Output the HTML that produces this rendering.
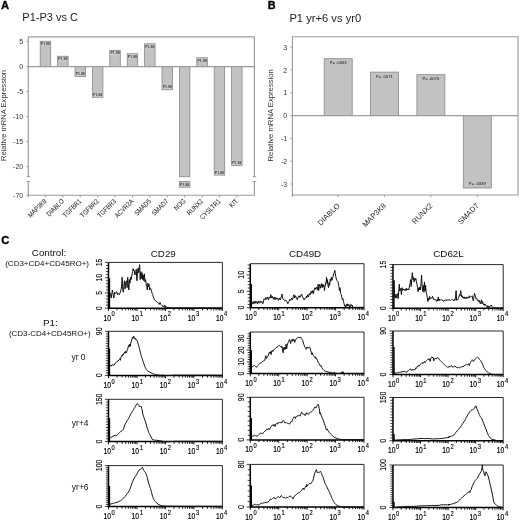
<!DOCTYPE html>
<html><head><meta charset="utf-8"><style>
html,body{margin:0;padding:0;background:#fff;}
svg{display:block;filter:blur(0.3px);}
text{font-family:"Liberation Sans", sans-serif;}
</style></head><body>
<svg width="520" height="522" viewBox="0 0 520 522">
<rect width="520" height="522" fill="#fff"/>
<text x="0.90" y="8.90" font-size="11.2" text-anchor="start" font-weight="bold" fill="#000" stroke="#000" stroke-width="0.35">A</text>
<text x="22.30" y="21.30" font-size="11" text-anchor="start" font-weight="normal" fill="#222">P1-P3 vs C</text>
<path d="M28.3 176.7 V36.8 H254.4 V176.7 M28.3 181.5 V197.2 M28.3 195.2 H254.4 V181.5" fill="none" stroke="#9c9c9c" stroke-width="1.15"/>
<path d="M26.5 176.7 H30.1 M26.5 181.5 H30.1" stroke="#9c9c9c" stroke-width="1"/>
<path d="M252.6 176.7 H256.2 M252.6 181.5 H256.2" stroke="#9c9c9c" stroke-width="1"/>
<path d="M26.3 41.599999999999994 H28.3" stroke="#9c9c9c" stroke-width="1"/>
<text x="23.20" y="44.10" font-size="7" text-anchor="end" font-weight="normal" fill="#333">5</text>
<path d="M26.3 66.6 H28.3" stroke="#9c9c9c" stroke-width="1"/>
<text x="23.20" y="69.10" font-size="7" text-anchor="end" font-weight="normal" fill="#333">0</text>
<path d="M26.3 91.6 H28.3" stroke="#9c9c9c" stroke-width="1"/>
<text x="23.20" y="94.10" font-size="7" text-anchor="end" font-weight="normal" fill="#333">-5</text>
<path d="M26.3 116.6 H28.3" stroke="#9c9c9c" stroke-width="1"/>
<text x="23.20" y="119.10" font-size="7" text-anchor="end" font-weight="normal" fill="#333">-10</text>
<path d="M26.3 141.6 H28.3" stroke="#9c9c9c" stroke-width="1"/>
<text x="23.20" y="144.10" font-size="7" text-anchor="end" font-weight="normal" fill="#333">-15</text>
<path d="M26.3 166.6 H28.3" stroke="#9c9c9c" stroke-width="1"/>
<text x="23.20" y="169.10" font-size="7" text-anchor="end" font-weight="normal" fill="#333">-20</text>
<path d="M26.3 195.2 H28.3" stroke="#9c9c9c" stroke-width="1"/>
<text x="23.20" y="197.70" font-size="7" text-anchor="end" font-weight="normal" fill="#333">-70</text>
<text x="6.00" y="115.50" font-size="7.6" text-anchor="middle" font-weight="normal" fill="#333" transform="rotate(-90 6.0 115.5)">Relative mRNA Expression</text>
<rect x="40.20" y="41.25" width="10.5" height="25.35" fill="#c2c2c2" stroke="#888888" stroke-width="0.8"/>
<rect x="40.90" y="41.85" width="9.10" height="4.2" fill="#cdcdcd"/>
<text x="45.45" y="45.15" font-size="3.5" font-weight="bold" text-anchor="middle" fill="#3a3a3a">P1.98</text>
<path d="M45.45 195.2 V197.39999999999998" stroke="#9c9c9c" stroke-width="1"/>
<text x="47.05" y="201.60" font-size="7" text-anchor="end" fill="#111" transform="rotate(-45 47.05 201.60) translate(47.05 201.60) scale(0.84 1) translate(-47.05 -201.60)">MAP3K8</text>
<rect x="57.60" y="56.25" width="10.5" height="10.35" fill="#c2c2c2" stroke="#888888" stroke-width="0.8"/>
<rect x="58.30" y="56.85" width="9.10" height="4.2" fill="#cdcdcd"/>
<text x="62.85" y="60.15" font-size="3.5" font-weight="bold" text-anchor="middle" fill="#3a3a3a">P1.98</text>
<path d="M62.85 195.2 V197.39999999999998" stroke="#9c9c9c" stroke-width="1"/>
<text x="64.45" y="201.60" font-size="7" text-anchor="end" fill="#111" transform="rotate(-45 64.45 201.60) translate(64.45 201.60) scale(0.84 1) translate(-64.45 -201.60)">DIABLO</text>
<rect x="75.00" y="66.60" width="10.5" height="9.90" fill="#c2c2c2" stroke="#888888" stroke-width="0.8"/>
<rect x="75.70" y="71.70" width="9.10" height="4.2" fill="#cdcdcd"/>
<text x="80.25" y="75.00" font-size="3.5" font-weight="bold" text-anchor="middle" fill="#3a3a3a">P1.98</text>
<path d="M80.25 195.2 V197.39999999999998" stroke="#9c9c9c" stroke-width="1"/>
<text x="81.85" y="201.60" font-size="7" text-anchor="end" fill="#111" transform="rotate(-45 81.85 201.60) translate(81.85 201.60) scale(0.84 1) translate(-81.85 -201.60)">TGFBR1</text>
<rect x="92.40" y="66.60" width="10.5" height="30.65" fill="#c2c2c2" stroke="#888888" stroke-width="0.8"/>
<rect x="93.10" y="92.45" width="9.10" height="4.2" fill="#cdcdcd"/>
<text x="97.65" y="95.75" font-size="3.5" font-weight="bold" text-anchor="middle" fill="#3a3a3a">P1.98</text>
<path d="M97.65 195.2 V197.39999999999998" stroke="#9c9c9c" stroke-width="1"/>
<text x="99.25" y="201.60" font-size="7" text-anchor="end" fill="#111" transform="rotate(-45 99.25 201.60) translate(99.25 201.60) scale(0.84 1) translate(-99.25 -201.60)">TGFBR2</text>
<rect x="109.80" y="50.40" width="10.5" height="16.20" fill="#c2c2c2" stroke="#888888" stroke-width="0.8"/>
<rect x="110.50" y="51.00" width="9.10" height="4.2" fill="#cdcdcd"/>
<text x="115.05" y="54.30" font-size="3.5" font-weight="bold" text-anchor="middle" fill="#3a3a3a">P1.98</text>
<path d="M115.05 195.2 V197.39999999999998" stroke="#9c9c9c" stroke-width="1"/>
<text x="116.65" y="201.60" font-size="7" text-anchor="end" fill="#111" transform="rotate(-45 116.65 201.60) translate(116.65 201.60) scale(0.84 1) translate(-116.65 -201.60)">TGFBR3</text>
<rect x="127.20" y="53.75" width="10.5" height="12.85" fill="#c2c2c2" stroke="#888888" stroke-width="0.8"/>
<rect x="127.90" y="54.35" width="9.10" height="4.2" fill="#cdcdcd"/>
<text x="132.45" y="57.65" font-size="3.5" font-weight="bold" text-anchor="middle" fill="#3a3a3a">P1.98</text>
<path d="M132.45 195.2 V197.39999999999998" stroke="#9c9c9c" stroke-width="1"/>
<text x="134.05" y="201.60" font-size="7" text-anchor="end" fill="#111" transform="rotate(-45 134.05 201.60) translate(134.05 201.60) scale(0.84 1) translate(-134.05 -201.60)">ACVR2A</text>
<rect x="144.60" y="43.75" width="10.5" height="22.85" fill="#c2c2c2" stroke="#888888" stroke-width="0.8"/>
<rect x="145.30" y="44.35" width="9.10" height="4.2" fill="#cdcdcd"/>
<text x="149.85" y="47.65" font-size="3.5" font-weight="bold" text-anchor="middle" fill="#3a3a3a">P1.98</text>
<path d="M149.85 195.2 V197.39999999999998" stroke="#9c9c9c" stroke-width="1"/>
<text x="151.45" y="201.60" font-size="7" text-anchor="end" fill="#111" transform="rotate(-45 151.45 201.60) translate(151.45 201.60) scale(0.84 1) translate(-151.45 -201.60)">SMAD5</text>
<rect x="162.00" y="66.60" width="10.5" height="23.15" fill="#c2c2c2" stroke="#888888" stroke-width="0.8"/>
<rect x="162.70" y="84.95" width="9.10" height="4.2" fill="#cdcdcd"/>
<text x="167.25" y="88.25" font-size="3.5" font-weight="bold" text-anchor="middle" fill="#3a3a3a">P1.98</text>
<path d="M167.25 195.2 V197.39999999999998" stroke="#9c9c9c" stroke-width="1"/>
<text x="168.85" y="201.60" font-size="7" text-anchor="end" fill="#111" transform="rotate(-45 168.85 201.60) translate(168.85 201.60) scale(0.84 1) translate(-168.85 -201.60)">SMAD7</text>
<rect x="179.40" y="66.60" width="10.5" height="110.10" fill="#c2c2c2" stroke="#888888" stroke-width="0.8"/>
<path d="M184.65 195.2 V197.39999999999998" stroke="#9c9c9c" stroke-width="1"/>
<text x="186.25" y="201.60" font-size="7" text-anchor="end" fill="#111" transform="rotate(-45 186.25 201.60) translate(186.25 201.60) scale(0.84 1) translate(-186.25 -201.60)">NOG</text>
<rect x="196.80" y="57.75" width="10.5" height="8.85" fill="#c2c2c2" stroke="#888888" stroke-width="0.8"/>
<rect x="197.50" y="58.35" width="9.10" height="4.2" fill="#cdcdcd"/>
<text x="202.05" y="61.65" font-size="3.5" font-weight="bold" text-anchor="middle" fill="#3a3a3a">P1.98</text>
<path d="M202.05 195.2 V197.39999999999998" stroke="#9c9c9c" stroke-width="1"/>
<text x="203.65" y="201.60" font-size="7" text-anchor="end" fill="#111" transform="rotate(-45 203.65 201.60) translate(203.65 201.60) scale(0.84 1) translate(-203.65 -201.60)">RUNX2</text>
<rect x="214.20" y="66.60" width="10.5" height="108.50" fill="#c2c2c2" stroke="#888888" stroke-width="0.8"/>
<rect x="214.90" y="170.30" width="9.10" height="4.2" fill="#cdcdcd"/>
<text x="219.45" y="173.60" font-size="3.5" font-weight="bold" text-anchor="middle" fill="#3a3a3a">P1.98</text>
<path d="M219.45 195.2 V197.39999999999998" stroke="#9c9c9c" stroke-width="1"/>
<text x="221.05" y="201.60" font-size="7" text-anchor="end" fill="#111" transform="rotate(-45 221.05 201.60) translate(221.05 201.60) scale(0.84 1) translate(-221.05 -201.60)">CYSLTR1</text>
<rect x="231.60" y="66.60" width="10.5" height="98.80" fill="#c2c2c2" stroke="#888888" stroke-width="0.8"/>
<rect x="232.30" y="160.60" width="9.10" height="4.2" fill="#cdcdcd"/>
<text x="236.85" y="163.90" font-size="3.5" font-weight="bold" text-anchor="middle" fill="#3a3a3a">P1.98</text>
<path d="M236.85 195.2 V197.39999999999998" stroke="#9c9c9c" stroke-width="1"/>
<text x="238.45" y="201.60" font-size="7" text-anchor="end" fill="#111" transform="rotate(-45 238.45 201.60) translate(238.45 201.60) scale(0.84 1) translate(-238.45 -201.60)">KIT</text>
<rect x="179.40" y="181.50" width="10.5" height="5.7" fill="#c2c2c2" stroke="#888888" stroke-width="0.8"/>
<rect x="180.10" y="182.50" width="9.1" height="4.2" fill="#cdcdcd"/>
<text x="184.65" y="185.80" font-size="3.5" font-weight="bold" text-anchor="middle" fill="#3a3a3a">P1.98</text>
<path d="M28.3 66.6 H254.4" stroke="#9c9c9c" stroke-width="1.15"/>
<text x="267.80" y="9.20" font-size="10.8" text-anchor="start" font-weight="bold" fill="#000" stroke="#000" stroke-width="0.35">B</text>
<text x="289.40" y="21.80" font-size="11.2" text-anchor="start" font-weight="normal" fill="#222">P1 yr+6 vs yr0</text>
<path d="M292.4 197.0 V36.7 H518.0 V195.0 H292.4" fill="none" stroke="#9c9c9c" stroke-width="1.15"/>
<path d="M290.4 47.20 H292.4" stroke="#9c9c9c" stroke-width="1"/>
<text x="287.20" y="49.70" font-size="7" text-anchor="end" font-weight="normal" fill="#333">3</text>
<path d="M290.4 70.00 H292.4" stroke="#9c9c9c" stroke-width="1"/>
<text x="287.20" y="72.50" font-size="7" text-anchor="end" font-weight="normal" fill="#333">2</text>
<path d="M290.4 92.80 H292.4" stroke="#9c9c9c" stroke-width="1"/>
<text x="287.20" y="95.30" font-size="7" text-anchor="end" font-weight="normal" fill="#333">1</text>
<path d="M290.4 115.60 H292.4" stroke="#9c9c9c" stroke-width="1"/>
<text x="287.20" y="118.10" font-size="7" text-anchor="end" font-weight="normal" fill="#333">0</text>
<path d="M290.4 138.40 H292.4" stroke="#9c9c9c" stroke-width="1"/>
<text x="287.20" y="140.90" font-size="7" text-anchor="end" font-weight="normal" fill="#333">-1</text>
<path d="M290.4 161.20 H292.4" stroke="#9c9c9c" stroke-width="1"/>
<text x="287.20" y="163.70" font-size="7" text-anchor="end" font-weight="normal" fill="#333">-2</text>
<path d="M290.4 184.00 H292.4" stroke="#9c9c9c" stroke-width="1"/>
<text x="287.20" y="186.50" font-size="7" text-anchor="end" font-weight="normal" fill="#333">-3</text>
<text x="273.40" y="115.30" font-size="7.7" text-anchor="middle" font-weight="normal" fill="#333" transform="rotate(-90 273.4 115.3)">Relative mRNA Expression</text>
<rect x="324.20" y="58.70" width="28.0" height="56.90" fill="#c2c2c2" stroke="#888888" stroke-width="0.8"/>
<text x="338.20" y="64.20" font-size="4.2" text-anchor="middle" font-weight="normal" fill="#111">P= .0063</text>
<path d="M338.20 195.0 V197.2" stroke="#9c9c9c" stroke-width="1"/>
<text x="340.40" y="206.20" font-size="7.6" text-anchor="end" font-weight="normal" fill="#222" transform="rotate(-45 340.4 206.2)">DIABLO</text>
<rect x="370.40" y="72.10" width="28.0" height="43.50" fill="#c2c2c2" stroke="#888888" stroke-width="0.8"/>
<text x="384.40" y="77.60" font-size="4.2" text-anchor="middle" font-weight="normal" fill="#111">P= .0071</text>
<path d="M384.40 195.0 V197.2" stroke="#9c9c9c" stroke-width="1"/>
<text x="386.60" y="206.20" font-size="7.6" text-anchor="end" font-weight="normal" fill="#222" transform="rotate(-45 386.59999999999997 206.2)">MAP3K8</text>
<rect x="416.90" y="74.70" width="28.0" height="40.90" fill="#c2c2c2" stroke="#888888" stroke-width="0.8"/>
<text x="430.90" y="80.20" font-size="4.2" text-anchor="middle" font-weight="normal" fill="#111">P= .0070</text>
<path d="M430.90 195.0 V197.2" stroke="#9c9c9c" stroke-width="1"/>
<text x="433.10" y="206.20" font-size="7.6" text-anchor="end" font-weight="normal" fill="#222" transform="rotate(-45 433.09999999999997 206.2)">RUNX2</text>
<rect x="463.30" y="115.60" width="28.0" height="72.40" fill="#c2c2c2" stroke="#888888" stroke-width="0.8"/>
<text x="477.30" y="184.80" font-size="4.2" text-anchor="middle" font-weight="normal" fill="#111">P= .0339</text>
<path d="M477.30 195.0 V197.2" stroke="#9c9c9c" stroke-width="1"/>
<text x="479.50" y="206.20" font-size="7.6" text-anchor="end" font-weight="normal" fill="#222" transform="rotate(-45 479.5 206.2)">SMAD7</text>
<path d="M292.4 115.6 H518.0" stroke="#9c9c9c" stroke-width="1.15"/>
<text x="1.30" y="244.40" font-size="11.2" text-anchor="start" font-weight="bold" fill="#000" stroke="#000" stroke-width="0.35">C</text>
<text x="49.00" y="256.30" font-size="9.8" text-anchor="middle" font-weight="normal" fill="#111">Control:</text>
<text x="47.10" y="266.00" font-size="8" text-anchor="middle" font-weight="normal" fill="#111">(CD3+CD4+CD45RO+)</text>
<text x="50.30" y="325.80" font-size="9.9" text-anchor="middle" font-weight="normal" fill="#111">P1:</text>
<text x="49.80" y="336.30" font-size="8" text-anchor="middle" font-weight="normal" fill="#111">(CD3-CD4+CD45RO+)</text>
<text x="85.60" y="360.00" font-size="8.5" text-anchor="end" font-weight="normal" fill="#111">yr 0</text>
<text x="88.60" y="426.30" font-size="8.5" text-anchor="end" font-weight="normal" fill="#111">yr+4</text>
<text x="88.60" y="490.00" font-size="8.5" text-anchor="end" font-weight="normal" fill="#111">yr+6</text>
<text x="163.30" y="256.60" font-size="9.8" text-anchor="middle" font-weight="normal" fill="#111">CD29</text>
<text x="305.10" y="256.60" font-size="9.8" text-anchor="middle" font-weight="normal" fill="#111">CD49D</text>
<text x="448.50" y="256.60" font-size="9.8" text-anchor="middle" font-weight="normal" fill="#111">CD62L</text>
<path d="M108.5 262.40 H222.4 V308.20" fill="none" stroke="#111" stroke-width="0.9"/>
<path d="M108.5 262.40 V308.20 H222.4" fill="none" stroke="#000" stroke-width="1.5"/>
<path d="M108.50 308.20 V311.00 M117.07 308.20 V310.40 M122.09 308.20 V310.40 M125.64 308.20 V310.40 M128.40 308.20 V310.40 M130.66 308.20 V310.40 M132.56 308.20 V310.40 M134.22 308.20 V310.40 M135.67 308.20 V310.40 M136.97 308.20 V311.00 M145.55 308.20 V310.40 M150.56 308.20 V310.40 M154.12 308.20 V310.40 M156.88 308.20 V310.40 M159.13 308.20 V310.40 M161.04 308.20 V310.40 M162.69 308.20 V310.40 M164.15 308.20 V310.40 M165.45 308.20 V311.00 M174.02 308.20 V310.40 M179.04 308.20 V310.40 M182.59 308.20 V310.40 M185.35 308.20 V310.40 M187.61 308.20 V310.40 M189.51 308.20 V310.40 M191.17 308.20 V310.40 M192.62 308.20 V310.40 M193.93 308.20 V311.00 M202.50 308.20 V310.40 M207.51 308.20 V310.40 M211.07 308.20 V310.40 M213.83 308.20 V310.40 M216.08 308.20 V310.40 M217.99 308.20 V310.40 M219.64 308.20 V310.40 M221.10 308.20 V310.40 M222.40 308.20 V311.00" stroke="#000" stroke-width="0.9"/>
<text x="107.20" y="320.80" font-size="8.6" text-anchor="middle" fill="#000" stroke="#000" stroke-width="0.2" transform="translate(107.20 0) scale(0.78 1) translate(-107.20 0)">10</text>
<text x="111.60" y="316.40" font-size="7.0" fill="#000" stroke="#000" stroke-width="0.15" transform="translate(111.60 0) scale(0.82 1) translate(-111.60 0)">0</text>
<text x="135.32" y="320.80" font-size="8.6" text-anchor="middle" fill="#000" stroke="#000" stroke-width="0.2" transform="translate(135.32 0) scale(0.78 1) translate(-135.32 0)">10</text>
<text x="139.72" y="316.40" font-size="7.0" fill="#000" stroke="#000" stroke-width="0.15" transform="translate(139.72 0) scale(0.82 1) translate(-139.72 0)">1</text>
<text x="163.45" y="320.80" font-size="8.6" text-anchor="middle" fill="#000" stroke="#000" stroke-width="0.2" transform="translate(163.45 0) scale(0.78 1) translate(-163.45 0)">10</text>
<text x="167.85" y="316.40" font-size="7.0" fill="#000" stroke="#000" stroke-width="0.15" transform="translate(167.85 0) scale(0.82 1) translate(-167.85 0)">2</text>
<text x="191.57" y="320.80" font-size="8.6" text-anchor="middle" fill="#000" stroke="#000" stroke-width="0.2" transform="translate(191.57 0) scale(0.78 1) translate(-191.57 0)">10</text>
<text x="195.97" y="316.40" font-size="7.0" fill="#000" stroke="#000" stroke-width="0.15" transform="translate(195.97 0) scale(0.82 1) translate(-195.97 0)">3</text>
<text x="219.70" y="320.80" font-size="8.6" text-anchor="middle" fill="#000" stroke="#000" stroke-width="0.2" transform="translate(219.70 0) scale(0.78 1) translate(-219.70 0)">10</text>
<text x="224.10" y="316.40" font-size="7.0" fill="#000" stroke="#000" stroke-width="0.15" transform="translate(224.10 0) scale(0.82 1) translate(-224.10 0)">4</text>
<path d="M104.90 308.20 H108.5 M105.90 305.15 H108.5 M105.90 302.09 H108.5 M105.90 299.04 H108.5 M105.90 295.99 H108.5 M104.90 292.93 H108.5 M105.90 289.88 H108.5 M105.90 286.83 H108.5 M105.90 283.77 H108.5 M105.90 280.72 H108.5 M104.90 277.67 H108.5 M105.90 274.61 H108.5 M105.90 271.56 H108.5 M105.90 268.51 H108.5 M105.90 265.45 H108.5 M104.90 262.40 H108.5" stroke="#000" stroke-width="0.75"/>
<text x="101.90" y="308.20" font-size="8.2" text-anchor="middle" fill="#000" stroke="#000" stroke-width="0.1" transform="rotate(-90 101.90 308.20) translate(101.90 0) scale(0.84 1) translate(-101.90 0)">0</text>
<text x="101.90" y="292.93" font-size="8.2" text-anchor="middle" fill="#000" stroke="#000" stroke-width="0.1" transform="rotate(-90 101.90 292.93) translate(101.90 0) scale(0.84 1) translate(-101.90 0)">5</text>
<text x="101.90" y="277.67" font-size="8.2" text-anchor="middle" fill="#000" stroke="#000" stroke-width="0.1" transform="rotate(-90 101.90 277.67) translate(101.90 0) scale(0.84 1) translate(-101.90 0)">10</text>
<text x="101.90" y="262.40" font-size="8.2" text-anchor="middle" fill="#000" stroke="#000" stroke-width="0.1" transform="rotate(-90 101.90 262.40) translate(101.90 0) scale(0.84 1) translate(-101.90 0)">15</text>
<path d="M109.50 308.20 V278.00" stroke="#000" stroke-width="1.3"/>
<path d="M108.65 277.88 L109.23 292.31 L110.04 292.88 L111.19 298.08 L112.35 290.00 L113.15 294.62 L113.85 298.08 L114.65 292.31 L115.81 293.46 L116.62 291.73 L117.54 294.62 L118.46 293.46 L119.27 294.62 L120.08 292.88 L121.00 290.00 L121.58 286.54 L122.15 277.31 L122.73 288.85 L123.31 292.31 L123.88 286.54 L124.46 280.77 L125.04 288.85 L125.85 281.92 L126.54 280.77 L127.12 287.69 L127.69 277.31 L128.27 283.08 L128.85 290.00 L129.42 279.62 L130.00 283.08 L130.58 277.31 L131.15 279.62 L131.96 275.00 L132.54 271.54 L133.23 268.65 L133.69 270.96 L134.27 270.38 L134.85 275.00 L135.54 273.85 L136.23 269.23 L136.92 280.77 L137.50 271.54 L138.08 268.08 L138.65 272.69 L139.23 266.92 L139.69 264.62 L140.15 279.62 L140.85 271.54 L141.54 278.46 L142.12 272.69 L142.69 279.62 L143.15 275.00 L143.85 280.77 L144.42 273.85 L145.00 281.92 L145.58 279.62 L146.15 284.23 L146.73 286.54 L147.31 290.00 L147.88 283.08 L148.46 286.54 L149.04 284.23 L149.62 290.00 L150.19 287.69 L150.77 288.85 L151.58 291.15 L152.15 293.46 L152.73 294.62 L153.31 296.92 L154.23 299.23 L155.04 300.38 L156.19 301.31 L157.35 302.12 L158.50 303.27 L159.31 304.42 L160.00 302.46 L160.81 304.42 L161.96 305.58 L163.12 306.38 L164.27 306.73 L166.00 307.31 L163.80 305.40 L165.40 306.20 L167.00 307.40 L169.00 307.90 L222.00 307.90" fill="none" stroke="#111" stroke-width="1.0" stroke-linejoin="round"/>
<path d="M250.3 263.70 H364.0 V307.70" fill="none" stroke="#111" stroke-width="0.9"/>
<path d="M250.3 263.70 V307.70 H364.0" fill="none" stroke="#000" stroke-width="1.5"/>
<path d="M250.30 307.70 V310.50 M258.86 307.70 V309.90 M263.86 307.70 V309.90 M267.41 307.70 V309.90 M270.17 307.70 V309.90 M272.42 307.70 V309.90 M274.32 307.70 V309.90 M275.97 307.70 V309.90 M277.42 307.70 V309.90 M278.73 307.70 V310.50 M287.28 307.70 V309.90 M292.29 307.70 V309.90 M295.84 307.70 V309.90 M298.59 307.70 V309.90 M300.84 307.70 V309.90 M302.75 307.70 V309.90 M304.40 307.70 V309.90 M305.85 307.70 V309.90 M307.15 307.70 V310.50 M315.71 307.70 V309.90 M320.71 307.70 V309.90 M324.26 307.70 V309.90 M327.02 307.70 V309.90 M329.27 307.70 V309.90 M331.17 307.70 V309.90 M332.82 307.70 V309.90 M334.27 307.70 V309.90 M335.57 307.70 V310.50 M344.13 307.70 V309.90 M349.14 307.70 V309.90 M352.69 307.70 V309.90 M355.44 307.70 V309.90 M357.69 307.70 V309.90 M359.60 307.70 V309.90 M361.25 307.70 V309.90 M362.70 307.70 V309.90 M364.00 307.70 V310.50" stroke="#000" stroke-width="0.9"/>
<text x="249.00" y="320.30" font-size="8.6" text-anchor="middle" fill="#000" stroke="#000" stroke-width="0.2" transform="translate(249.00 0) scale(0.78 1) translate(-249.00 0)">10</text>
<text x="253.40" y="315.90" font-size="7.0" fill="#000" stroke="#000" stroke-width="0.15" transform="translate(253.40 0) scale(0.82 1) translate(-253.40 0)">0</text>
<text x="277.07" y="320.30" font-size="8.6" text-anchor="middle" fill="#000" stroke="#000" stroke-width="0.2" transform="translate(277.07 0) scale(0.78 1) translate(-277.07 0)">10</text>
<text x="281.47" y="315.90" font-size="7.0" fill="#000" stroke="#000" stroke-width="0.15" transform="translate(281.47 0) scale(0.82 1) translate(-281.47 0)">1</text>
<text x="305.15" y="320.30" font-size="8.6" text-anchor="middle" fill="#000" stroke="#000" stroke-width="0.2" transform="translate(305.15 0) scale(0.78 1) translate(-305.15 0)">10</text>
<text x="309.55" y="315.90" font-size="7.0" fill="#000" stroke="#000" stroke-width="0.15" transform="translate(309.55 0) scale(0.82 1) translate(-309.55 0)">2</text>
<text x="333.22" y="320.30" font-size="8.6" text-anchor="middle" fill="#000" stroke="#000" stroke-width="0.2" transform="translate(333.22 0) scale(0.78 1) translate(-333.22 0)">10</text>
<text x="337.62" y="315.90" font-size="7.0" fill="#000" stroke="#000" stroke-width="0.15" transform="translate(337.62 0) scale(0.82 1) translate(-337.62 0)">3</text>
<text x="361.30" y="320.30" font-size="8.6" text-anchor="middle" fill="#000" stroke="#000" stroke-width="0.2" transform="translate(361.30 0) scale(0.78 1) translate(-361.30 0)">10</text>
<text x="365.70" y="315.90" font-size="7.0" fill="#000" stroke="#000" stroke-width="0.15" transform="translate(365.70 0) scale(0.82 1) translate(-365.70 0)">4</text>
<path d="M246.70 307.70 H250.3 M247.70 304.42 H250.3 M247.70 301.13 H250.3 M247.70 297.85 H250.3 M247.70 294.57 H250.3 M246.70 291.28 H250.3 M247.70 288.00 H250.3 M247.70 284.71 H250.3 M247.70 281.43 H250.3 M247.70 278.15 H250.3 M246.70 274.86 H250.3 M247.70 271.58 H250.3 M247.70 268.30 H250.3 M247.70 265.01 H250.3" stroke="#000" stroke-width="0.75"/>
<text x="243.70" y="307.70" font-size="8.2" text-anchor="middle" fill="#000" stroke="#000" stroke-width="0.1" transform="rotate(-90 243.70 307.70) translate(243.70 0) scale(0.84 1) translate(-243.70 0)">0</text>
<text x="243.70" y="291.28" font-size="8.2" text-anchor="middle" fill="#000" stroke="#000" stroke-width="0.1" transform="rotate(-90 243.70 291.28) translate(243.70 0) scale(0.84 1) translate(-243.70 0)">5</text>
<text x="243.70" y="274.86" font-size="8.2" text-anchor="middle" fill="#000" stroke="#000" stroke-width="0.1" transform="rotate(-90 243.70 274.86) translate(243.70 0) scale(0.84 1) translate(-243.70 0)">10</text>
<path d="M251.30 307.70 V284.20" stroke="#000" stroke-width="1.3"/>
<path d="M250.88 284.23 L251.23 304.42 L252.04 304.42 L253.19 301.54 L254.00 303.85 L254.92 300.96 L255.85 303.27 L256.65 301.54 L257.46 303.85 L258.38 300.96 L259.31 303.27 L260.12 300.96 L260.92 302.69 L261.85 301.54 L262.77 303.85 L263.58 300.96 L264.15 298.65 L265.08 299.81 L265.88 297.50 L266.69 299.23 L267.62 296.92 L268.54 299.81 L269.35 296.92 L270.15 298.08 L270.85 294.62 L271.65 298.08 L272.46 296.35 L273.38 299.23 L274.31 296.92 L275.12 299.81 L275.92 297.50 L276.85 299.23 L277.77 298.08 L278.58 300.38 L279.38 298.08 L280.31 299.81 L281.23 296.92 L282.04 294.04 L282.62 298.08 L283.77 299.81 L284.92 300.38 L286.08 300.38 L287.23 302.12 L287.81 303.85 L288.38 302.69 L288.96 301.54 L289.77 299.23 L290.69 300.38 L291.62 298.08 L292.42 299.81 L293.23 296.92 L293.92 294.62 L294.73 298.08 L295.54 295.77 L296.46 298.08 L297.38 299.81 L298.19 296.92 L299.00 295.77 L299.92 297.50 L300.85 295.19 L301.65 294.04 L302.46 296.92 L303.38 298.08 L304.19 299.81 L305.12 298.08 L306.27 297.50 L307.08 296.35 L306.00 296.92 L306.92 297.50 L307.73 294.62 L308.54 296.92 L309.46 293.46 L310.38 294.62 L311.19 291.15 L312.00 293.46 L312.69 290.58 L313.50 293.46 L314.31 288.85 L315.00 287.69 L315.81 289.42 L316.62 287.12 L317.54 290.00 L318.12 284.23 L318.69 290.58 L319.27 286.54 L319.85 284.23 L320.42 288.27 L321.00 285.96 L321.58 283.65 L322.15 287.69 L322.73 284.23 L323.31 286.54 L323.88 284.81 L324.46 290.58 L325.04 286.54 L325.62 283.08 L326.19 281.92 L326.54 277.31 L327.00 283.65 L327.46 279.62 L327.92 284.81 L328.50 287.69 L329.08 282.50 L329.65 285.38 L330.23 279.04 L330.81 281.35 L331.38 277.31 L331.96 280.19 L332.54 278.46 L333.12 276.15 L333.69 273.85 L334.27 272.69 L334.85 270.38 L335.42 275.00 L336.00 277.31 L336.58 280.19 L337.15 280.77 L337.73 281.35 L338.31 283.08 L338.88 286.54 L339.46 290.58 L340.04 287.69 L340.62 293.46 L341.19 294.62 L341.77 296.92 L342.35 299.81 L342.92 298.65 L343.50 301.54 L344.08 303.85 L344.65 306.15 L345.23 305.58 L345.81 307.31 L346.38 304.42 L346.96 306.15 L347.54 303.85 L348.12 306.15 L348.92 304.42 L349.85 307.31 L350.42 305.58 L351.00 304.42 L351.58 306.15 L352.15 305.00 L352.73 307.31 L353.54 307.31 L364.27 307.31" fill="none" stroke="#111" stroke-width="1.0" stroke-linejoin="round"/>
<path d="M393.0 264.60 H503.2 V308.30" fill="none" stroke="#111" stroke-width="0.9"/>
<path d="M393.0 264.60 V308.30 H503.2" fill="none" stroke="#000" stroke-width="1.5"/>
<path d="M393.00 308.30 V311.10 M401.29 308.30 V310.50 M406.14 308.30 V310.50 M409.59 308.30 V310.50 M412.26 308.30 V310.50 M414.44 308.30 V310.50 M416.28 308.30 V310.50 M417.88 308.30 V310.50 M419.29 308.30 V310.50 M420.55 308.30 V311.10 M428.84 308.30 V310.50 M433.69 308.30 V310.50 M437.14 308.30 V310.50 M439.81 308.30 V310.50 M441.99 308.30 V310.50 M443.83 308.30 V310.50 M445.43 308.30 V310.50 M446.84 308.30 V310.50 M448.10 308.30 V311.10 M456.39 308.30 V310.50 M461.24 308.30 V310.50 M464.69 308.30 V310.50 M467.36 308.30 V310.50 M469.54 308.30 V310.50 M471.38 308.30 V310.50 M472.98 308.30 V310.50 M474.39 308.30 V310.50 M475.65 308.30 V311.10 M483.94 308.30 V310.50 M488.79 308.30 V310.50 M492.24 308.30 V310.50 M494.91 308.30 V310.50 M497.09 308.30 V310.50 M498.93 308.30 V310.50 M500.53 308.30 V310.50 M501.94 308.30 V310.50 M503.20 308.30 V311.10" stroke="#000" stroke-width="0.9"/>
<text x="391.70" y="320.90" font-size="8.6" text-anchor="middle" fill="#000" stroke="#000" stroke-width="0.2" transform="translate(391.70 0) scale(0.78 1) translate(-391.70 0)">10</text>
<text x="396.10" y="316.50" font-size="7.0" fill="#000" stroke="#000" stroke-width="0.15" transform="translate(396.10 0) scale(0.82 1) translate(-396.10 0)">0</text>
<text x="418.90" y="320.90" font-size="8.6" text-anchor="middle" fill="#000" stroke="#000" stroke-width="0.2" transform="translate(418.90 0) scale(0.78 1) translate(-418.90 0)">10</text>
<text x="423.30" y="316.50" font-size="7.0" fill="#000" stroke="#000" stroke-width="0.15" transform="translate(423.30 0) scale(0.82 1) translate(-423.30 0)">1</text>
<text x="446.10" y="320.90" font-size="8.6" text-anchor="middle" fill="#000" stroke="#000" stroke-width="0.2" transform="translate(446.10 0) scale(0.78 1) translate(-446.10 0)">10</text>
<text x="450.50" y="316.50" font-size="7.0" fill="#000" stroke="#000" stroke-width="0.15" transform="translate(450.50 0) scale(0.82 1) translate(-450.50 0)">2</text>
<text x="473.30" y="320.90" font-size="8.6" text-anchor="middle" fill="#000" stroke="#000" stroke-width="0.2" transform="translate(473.30 0) scale(0.78 1) translate(-473.30 0)">10</text>
<text x="477.70" y="316.50" font-size="7.0" fill="#000" stroke="#000" stroke-width="0.15" transform="translate(477.70 0) scale(0.82 1) translate(-477.70 0)">3</text>
<text x="500.50" y="320.90" font-size="8.6" text-anchor="middle" fill="#000" stroke="#000" stroke-width="0.2" transform="translate(500.50 0) scale(0.78 1) translate(-500.50 0)">10</text>
<text x="504.90" y="316.50" font-size="7.0" fill="#000" stroke="#000" stroke-width="0.15" transform="translate(504.90 0) scale(0.82 1) translate(-504.90 0)">4</text>
<path d="M389.40 308.30 H393.0 M390.40 305.39 H393.0 M390.40 302.47 H393.0 M390.40 299.56 H393.0 M390.40 296.65 H393.0 M390.40 293.73 H393.0 M390.40 290.82 H393.0 M390.40 287.91 H393.0 M390.40 284.99 H393.0 M390.40 282.08 H393.0 M390.40 279.17 H393.0 M390.40 276.25 H393.0 M390.40 273.34 H393.0 M390.40 270.43 H393.0 M390.40 267.51 H393.0 M389.40 264.60 H393.0" stroke="#000" stroke-width="0.75"/>
<text x="386.40" y="308.30" font-size="8.2" text-anchor="middle" fill="#000" stroke="#000" stroke-width="0.1" transform="rotate(-90 386.40 308.30) translate(386.40 0) scale(0.84 1) translate(-386.40 0)">0</text>
<text x="386.40" y="264.60" font-size="8.2" text-anchor="middle" fill="#000" stroke="#000" stroke-width="0.1" transform="rotate(-90 386.40 264.60) translate(386.40 0) scale(0.84 1) translate(-386.40 0)">15</text>
<path d="M394.00 308.30 V280.20" stroke="#000" stroke-width="1.3"/>
<path d="M393.88 280.19 L394.46 296.92 L395.38 298.08 L395.85 294.04 L396.54 298.08 L397.00 295.19 L397.69 293.46 L398.15 298.65 L398.85 290.00 L399.31 284.23 L399.77 291.15 L400.23 288.85 L400.81 288.27 L401.38 294.62 L401.96 287.69 L402.54 290.58 L403.12 288.85 L403.69 290.00 L404.27 289.42 L404.85 290.58 L405.42 288.85 L406.00 290.58 L406.58 288.27 L407.15 290.00 L408.08 288.85 L408.88 290.00 L409.46 285.96 L410.04 283.65 L410.62 279.62 L411.19 286.54 L411.77 278.46 L412.35 272.69 L412.92 279.62 L413.50 277.31 L414.08 281.92 L414.65 278.46 L415.23 280.19 L415.81 278.46 L416.38 281.35 L416.96 284.23 L417.54 287.69 L418.12 291.73 L418.69 287.69 L419.27 290.00 L419.85 287.12 L420.42 290.00 L421.00 283.08 L421.58 275.00 L422.15 286.54 L422.73 291.15 L423.31 285.38 L423.88 292.31 L424.46 281.92 L425.04 291.15 L425.62 285.38 L426.19 292.31 L426.77 294.62 L427.35 298.08 L427.92 301.54 L428.50 298.08 L429.08 299.81 L429.65 296.35 L430.23 298.08 L430.81 298.65 L431.38 298.08 L431.96 298.65 L432.54 296.35 L433.12 298.08 L433.69 299.81 L434.27 299.23 L434.85 299.23 L435.42 299.81 L436.00 300.38 L436.58 301.54 L437.15 299.23 L437.73 300.96 L438.31 296.92 L438.88 300.96 L439.46 299.23 L440.04 300.38 L440.62 299.81 L441.77 299.81 L442.92 300.38 L443.50 301.54 L444.08 300.38 L449.15 299.81 L450.31 300.38 L451.46 299.23 L452.62 299.81 L453.77 300.96 L454.35 299.23 L454.92 300.38 L455.50 298.08 L456.08 290.58 L456.65 300.38 L457.23 299.23 L457.81 299.81 L458.38 298.65 L458.96 296.92 L459.54 294.62 L460.12 295.77 L460.69 290.58 L461.27 294.62 L461.85 296.92 L462.42 295.77 L463.00 298.08 L463.58 296.92 L464.15 298.65 L464.73 296.92 L465.31 298.08 L465.88 298.65 L466.46 296.92 L467.04 298.65 L467.62 297.50 L468.19 296.92 L468.77 298.08 L469.35 295.77 L469.92 297.50 L470.50 296.92 L471.08 296.92 L471.65 296.35 L472.23 295.77 L472.81 299.23 L473.38 300.96 L473.96 296.92 L474.54 293.46 L475.12 295.19 L475.69 296.92 L476.27 299.23 L476.85 298.65 L477.42 300.38 L478.00 299.81 L478.58 301.54 L479.15 300.38 L479.73 302.12 L480.31 303.85 L480.88 301.54 L481.46 299.81 L482.04 303.85 L482.62 301.54 L483.19 303.85 L483.77 305.00 L484.35 303.85 L484.92 305.58 L485.50 304.42 L486.08 305.58 L486.65 306.15 L487.23 307.31 L487.81 305.58 L488.38 307.88 L488.96 306.15 L489.54 307.31 L490.12 306.15 L490.69 305.58 L491.27 305.00 L491.85 306.15 L492.42 307.31 L493.00 307.88 L494.15 307.88 L503.38 307.88" fill="none" stroke="#111" stroke-width="1.0" stroke-linejoin="round"/>
<path d="M108.5 331.30 H222.4 V375.40" fill="none" stroke="#111" stroke-width="0.9"/>
<path d="M108.5 331.30 V375.40 H222.4" fill="none" stroke="#000" stroke-width="1.5"/>
<path d="M108.50 375.40 V378.20 M117.07 375.40 V377.60 M122.09 375.40 V377.60 M125.64 375.40 V377.60 M128.40 375.40 V377.60 M130.66 375.40 V377.60 M132.56 375.40 V377.60 M134.22 375.40 V377.60 M135.67 375.40 V377.60 M136.97 375.40 V378.20 M145.55 375.40 V377.60 M150.56 375.40 V377.60 M154.12 375.40 V377.60 M156.88 375.40 V377.60 M159.13 375.40 V377.60 M161.04 375.40 V377.60 M162.69 375.40 V377.60 M164.15 375.40 V377.60 M165.45 375.40 V378.20 M174.02 375.40 V377.60 M179.04 375.40 V377.60 M182.59 375.40 V377.60 M185.35 375.40 V377.60 M187.61 375.40 V377.60 M189.51 375.40 V377.60 M191.17 375.40 V377.60 M192.62 375.40 V377.60 M193.93 375.40 V378.20 M202.50 375.40 V377.60 M207.51 375.40 V377.60 M211.07 375.40 V377.60 M213.83 375.40 V377.60 M216.08 375.40 V377.60 M217.99 375.40 V377.60 M219.64 375.40 V377.60 M221.10 375.40 V377.60 M222.40 375.40 V378.20" stroke="#000" stroke-width="0.9"/>
<text x="107.20" y="388.00" font-size="8.6" text-anchor="middle" fill="#000" stroke="#000" stroke-width="0.2" transform="translate(107.20 0) scale(0.78 1) translate(-107.20 0)">10</text>
<text x="111.60" y="383.60" font-size="7.0" fill="#000" stroke="#000" stroke-width="0.15" transform="translate(111.60 0) scale(0.82 1) translate(-111.60 0)">0</text>
<text x="135.32" y="388.00" font-size="8.6" text-anchor="middle" fill="#000" stroke="#000" stroke-width="0.2" transform="translate(135.32 0) scale(0.78 1) translate(-135.32 0)">10</text>
<text x="139.72" y="383.60" font-size="7.0" fill="#000" stroke="#000" stroke-width="0.15" transform="translate(139.72 0) scale(0.82 1) translate(-139.72 0)">1</text>
<text x="163.45" y="388.00" font-size="8.6" text-anchor="middle" fill="#000" stroke="#000" stroke-width="0.2" transform="translate(163.45 0) scale(0.78 1) translate(-163.45 0)">10</text>
<text x="167.85" y="383.60" font-size="7.0" fill="#000" stroke="#000" stroke-width="0.15" transform="translate(167.85 0) scale(0.82 1) translate(-167.85 0)">2</text>
<text x="191.57" y="388.00" font-size="8.6" text-anchor="middle" fill="#000" stroke="#000" stroke-width="0.2" transform="translate(191.57 0) scale(0.78 1) translate(-191.57 0)">10</text>
<text x="195.97" y="383.60" font-size="7.0" fill="#000" stroke="#000" stroke-width="0.15" transform="translate(195.97 0) scale(0.82 1) translate(-195.97 0)">3</text>
<text x="219.70" y="388.00" font-size="8.6" text-anchor="middle" fill="#000" stroke="#000" stroke-width="0.2" transform="translate(219.70 0) scale(0.78 1) translate(-219.70 0)">10</text>
<text x="224.10" y="383.60" font-size="7.0" fill="#000" stroke="#000" stroke-width="0.15" transform="translate(224.10 0) scale(0.82 1) translate(-224.10 0)">4</text>
<path d="M104.90 375.40 H108.5 M105.90 372.95 H108.5 M105.90 370.50 H108.5 M105.90 368.05 H108.5 M105.90 365.60 H108.5 M105.90 363.15 H108.5 M105.90 360.70 H108.5 M105.90 358.25 H108.5 M105.90 355.80 H108.5 M105.90 353.35 H108.5 M105.90 350.90 H108.5 M105.90 348.45 H108.5 M105.90 346.00 H108.5 M105.90 343.55 H108.5 M105.90 341.10 H108.5 M105.90 338.65 H108.5 M105.90 336.20 H108.5 M105.90 333.75 H108.5 M104.90 331.30 H108.5" stroke="#000" stroke-width="0.75"/>
<text x="101.90" y="375.40" font-size="8.2" text-anchor="middle" fill="#000" stroke="#000" stroke-width="0.1" transform="rotate(-90 101.90 375.40) translate(101.90 0) scale(0.84 1) translate(-101.90 0)">0</text>
<text x="101.90" y="331.30" font-size="8.2" text-anchor="middle" fill="#000" stroke="#000" stroke-width="0.1" transform="rotate(-90 101.90 331.30) translate(101.90 0) scale(0.84 1) translate(-101.90 0)">90</text>
<path d="M109.50 375.40 V348.60" stroke="#000" stroke-width="1.3"/>
<path d="M108.54 367.23 L109.46 366.65 L110.38 365.50 L111.19 366.08 L112.00 364.69 L112.92 364.92 L113.85 365.50 L114.65 364.00 L115.81 362.62 L116.96 361.46 L118.12 360.88 L119.27 359.73 L119.85 358.58 L120.42 360.31 L121.00 357.42 L121.58 355.69 L122.15 356.27 L122.73 354.54 L123.31 355.12 L123.88 353.38 L124.46 352.23 L125.04 353.38 L125.62 351.08 L126.19 352.81 L126.77 351.65 L127.35 349.35 L127.92 348.19 L128.50 345.31 L129.08 346.46 L129.65 344.15 L130.23 346.46 L130.81 343.00 L131.38 341.27 L131.96 338.96 L132.54 337.23 L133.12 338.38 L133.69 336.08 L134.27 337.81 L134.85 338.96 L135.42 338.38 L136.00 340.12 L136.58 339.54 L137.15 340.69 L137.73 342.42 L138.31 344.15 L138.88 346.46 L139.46 348.77 L140.04 351.08 L140.62 353.38 L141.19 355.69 L141.77 357.42 L142.35 359.15 L142.92 360.88 L143.50 362.62 L144.08 364.35 L144.65 366.08 L145.23 367.23 L145.81 368.38 L146.38 369.54 L146.96 370.46 L147.54 370.92 L148.69 371.62 L149.85 372.08 L151.00 372.77 L152.15 373.23 L153.31 373.81 L154.46 374.15 L155.62 374.50 L156.77 374.73 L157.92 374.96 L159.08 375.08 L160.23 375.31 L161.38 375.31 L162.54 375.31 L163.69 375.08 L164.85 375.54 L166.00 375.54 L175.00 375.20 L222.40 375.20" fill="none" stroke="#111" stroke-width="1.0" stroke-linejoin="round"/>
<path d="M250.3 332.00 H364.0 V373.60" fill="none" stroke="#111" stroke-width="0.9"/>
<path d="M250.3 332.00 V373.60 H364.0" fill="none" stroke="#000" stroke-width="1.5"/>
<path d="M250.30 373.60 V376.40 M258.86 373.60 V375.80 M263.86 373.60 V375.80 M267.41 373.60 V375.80 M270.17 373.60 V375.80 M272.42 373.60 V375.80 M274.32 373.60 V375.80 M275.97 373.60 V375.80 M277.42 373.60 V375.80 M278.73 373.60 V376.40 M287.28 373.60 V375.80 M292.29 373.60 V375.80 M295.84 373.60 V375.80 M298.59 373.60 V375.80 M300.84 373.60 V375.80 M302.75 373.60 V375.80 M304.40 373.60 V375.80 M305.85 373.60 V375.80 M307.15 373.60 V376.40 M315.71 373.60 V375.80 M320.71 373.60 V375.80 M324.26 373.60 V375.80 M327.02 373.60 V375.80 M329.27 373.60 V375.80 M331.17 373.60 V375.80 M332.82 373.60 V375.80 M334.27 373.60 V375.80 M335.57 373.60 V376.40 M344.13 373.60 V375.80 M349.14 373.60 V375.80 M352.69 373.60 V375.80 M355.44 373.60 V375.80 M357.69 373.60 V375.80 M359.60 373.60 V375.80 M361.25 373.60 V375.80 M362.70 373.60 V375.80 M364.00 373.60 V376.40" stroke="#000" stroke-width="0.9"/>
<text x="249.00" y="386.20" font-size="8.6" text-anchor="middle" fill="#000" stroke="#000" stroke-width="0.2" transform="translate(249.00 0) scale(0.78 1) translate(-249.00 0)">10</text>
<text x="253.40" y="381.80" font-size="7.0" fill="#000" stroke="#000" stroke-width="0.15" transform="translate(253.40 0) scale(0.82 1) translate(-253.40 0)">0</text>
<text x="277.07" y="386.20" font-size="8.6" text-anchor="middle" fill="#000" stroke="#000" stroke-width="0.2" transform="translate(277.07 0) scale(0.78 1) translate(-277.07 0)">10</text>
<text x="281.47" y="381.80" font-size="7.0" fill="#000" stroke="#000" stroke-width="0.15" transform="translate(281.47 0) scale(0.82 1) translate(-281.47 0)">1</text>
<text x="305.15" y="386.20" font-size="8.6" text-anchor="middle" fill="#000" stroke="#000" stroke-width="0.2" transform="translate(305.15 0) scale(0.78 1) translate(-305.15 0)">10</text>
<text x="309.55" y="381.80" font-size="7.0" fill="#000" stroke="#000" stroke-width="0.15" transform="translate(309.55 0) scale(0.82 1) translate(-309.55 0)">2</text>
<text x="333.22" y="386.20" font-size="8.6" text-anchor="middle" fill="#000" stroke="#000" stroke-width="0.2" transform="translate(333.22 0) scale(0.78 1) translate(-333.22 0)">10</text>
<text x="337.62" y="381.80" font-size="7.0" fill="#000" stroke="#000" stroke-width="0.15" transform="translate(337.62 0) scale(0.82 1) translate(-337.62 0)">3</text>
<text x="361.30" y="386.20" font-size="8.6" text-anchor="middle" fill="#000" stroke="#000" stroke-width="0.2" transform="translate(361.30 0) scale(0.78 1) translate(-361.30 0)">10</text>
<text x="365.70" y="381.80" font-size="7.0" fill="#000" stroke="#000" stroke-width="0.15" transform="translate(365.70 0) scale(0.82 1) translate(-365.70 0)">4</text>
<path d="M246.70 373.60 H250.3 M247.70 371.26 H250.3 M247.70 368.91 H250.3 M247.70 366.57 H250.3 M247.70 364.23 H250.3 M246.70 361.88 H250.3 M247.70 359.54 H250.3 M247.70 357.19 H250.3 M247.70 354.85 H250.3 M247.70 352.51 H250.3 M246.70 350.16 H250.3 M247.70 347.82 H250.3 M247.70 345.48 H250.3 M247.70 343.13 H250.3 M247.70 340.79 H250.3 M246.70 338.45 H250.3 M247.70 336.10 H250.3 M247.70 333.76 H250.3" stroke="#000" stroke-width="0.75"/>
<text x="243.70" y="373.60" font-size="8.2" text-anchor="middle" fill="#000" stroke="#000" stroke-width="0.1" transform="rotate(-90 243.70 373.60) translate(243.70 0) scale(0.84 1) translate(-243.70 0)">0</text>
<text x="243.70" y="361.88" font-size="8.2" text-anchor="middle" fill="#000" stroke="#000" stroke-width="0.1" transform="rotate(-90 243.70 361.88) translate(243.70 0) scale(0.84 1) translate(-243.70 0)">10</text>
<text x="243.70" y="350.16" font-size="8.2" text-anchor="middle" fill="#000" stroke="#000" stroke-width="0.1" transform="rotate(-90 243.70 350.16) translate(243.70 0) scale(0.84 1) translate(-243.70 0)">20</text>
<text x="243.70" y="338.45" font-size="8.2" text-anchor="middle" fill="#000" stroke="#000" stroke-width="0.1" transform="rotate(-90 243.70 338.45) translate(243.70 0) scale(0.84 1) translate(-243.70 0)">30</text>
<path d="M251.30 373.60 V350.00" stroke="#000" stroke-width="1.3"/>
<path d="M250.88 367.81 L252.04 367.23 L253.19 366.08 L254.35 365.50 L255.50 366.65 L256.65 367.23 L257.81 365.50 L258.96 364.35 L260.12 363.19 L261.27 362.62 L262.42 361.46 L263.58 360.88 L264.73 360.31 L265.31 357.42 L265.88 355.69 L266.46 358.58 L267.04 357.42 L267.62 356.85 L268.19 355.69 L268.77 353.96 L269.35 352.23 L269.92 353.38 L270.50 351.65 L271.08 354.54 L271.65 351.08 L272.23 350.50 L272.81 351.65 L273.38 349.92 L274.54 349.35 L275.69 348.19 L276.85 347.04 L278.00 346.46 L279.15 345.31 L280.31 346.46 L280.88 345.88 L281.46 347.62 L282.04 346.46 L282.62 349.92 L283.19 352.81 L283.77 347.62 L284.35 349.35 L284.92 347.04 L285.50 349.35 L286.08 344.15 L286.65 348.77 L287.23 345.31 L287.81 343.00 L288.38 342.42 L288.96 340.69 L289.54 339.54 L290.12 341.27 L290.69 343.58 L291.27 340.12 L291.85 339.54 L292.42 341.27 L293.00 338.96 L293.58 340.69 L294.15 339.54 L294.73 342.42 L295.31 340.69 L295.88 339.54 L296.46 338.38 L297.62 337.81 L298.77 337.23 L299.92 337.81 L301.08 337.46 L301.65 338.38 L302.23 339.54 L302.81 340.69 L303.38 343.00 L303.96 344.73 L304.54 346.46 L305.12 347.62 L305.69 348.19 L306.27 349.35 L306.85 348.77 L306.00 348.19 L307.15 347.04 L308.31 348.19 L309.23 347.04 L310.04 347.62 L310.62 349.92 L311.19 352.23 L311.77 354.54 L312.35 352.81 L312.92 355.12 L313.50 355.69 L314.08 356.27 L314.65 357.42 L315.23 356.85 L315.81 358.58 L316.38 358.00 L316.96 359.15 L317.54 360.88 L318.12 362.04 L318.69 363.19 L319.27 363.77 L319.85 364.92 L320.42 366.08 L321.00 365.50 L321.58 367.23 L322.15 367.81 L322.73 368.96 L323.31 369.54 L323.88 370.12 L324.46 370.69 L325.62 371.27 L326.77 371.62 L327.92 371.85 L329.08 372.42 L330.23 372.08 L330.81 373.00 L331.38 372.42 L331.96 373.00 L333.12 373.58 L334.27 371.85 L335.42 373.58 L336.58 373.23 L337.73 373.58 L338.88 373.58 L340.04 373.00 L340.62 373.58 L341.77 371.85 L342.35 373.00 L342.92 371.62 L343.50 373.35 L344.65 373.58 L363.12 373.58" fill="none" stroke="#111" stroke-width="1.0" stroke-linejoin="round"/>
<path d="M393.0 331.00 H503.2 V374.50" fill="none" stroke="#111" stroke-width="0.9"/>
<path d="M393.0 331.00 V374.50 H503.2" fill="none" stroke="#000" stroke-width="1.5"/>
<path d="M393.00 374.50 V377.30 M401.29 374.50 V376.70 M406.14 374.50 V376.70 M409.59 374.50 V376.70 M412.26 374.50 V376.70 M414.44 374.50 V376.70 M416.28 374.50 V376.70 M417.88 374.50 V376.70 M419.29 374.50 V376.70 M420.55 374.50 V377.30 M428.84 374.50 V376.70 M433.69 374.50 V376.70 M437.14 374.50 V376.70 M439.81 374.50 V376.70 M441.99 374.50 V376.70 M443.83 374.50 V376.70 M445.43 374.50 V376.70 M446.84 374.50 V376.70 M448.10 374.50 V377.30 M456.39 374.50 V376.70 M461.24 374.50 V376.70 M464.69 374.50 V376.70 M467.36 374.50 V376.70 M469.54 374.50 V376.70 M471.38 374.50 V376.70 M472.98 374.50 V376.70 M474.39 374.50 V376.70 M475.65 374.50 V377.30 M483.94 374.50 V376.70 M488.79 374.50 V376.70 M492.24 374.50 V376.70 M494.91 374.50 V376.70 M497.09 374.50 V376.70 M498.93 374.50 V376.70 M500.53 374.50 V376.70 M501.94 374.50 V376.70 M503.20 374.50 V377.30" stroke="#000" stroke-width="0.9"/>
<text x="391.70" y="387.10" font-size="8.6" text-anchor="middle" fill="#000" stroke="#000" stroke-width="0.2" transform="translate(391.70 0) scale(0.78 1) translate(-391.70 0)">10</text>
<text x="396.10" y="382.70" font-size="7.0" fill="#000" stroke="#000" stroke-width="0.15" transform="translate(396.10 0) scale(0.82 1) translate(-396.10 0)">0</text>
<text x="418.90" y="387.10" font-size="8.6" text-anchor="middle" fill="#000" stroke="#000" stroke-width="0.2" transform="translate(418.90 0) scale(0.78 1) translate(-418.90 0)">10</text>
<text x="423.30" y="382.70" font-size="7.0" fill="#000" stroke="#000" stroke-width="0.15" transform="translate(423.30 0) scale(0.82 1) translate(-423.30 0)">1</text>
<text x="446.10" y="387.10" font-size="8.6" text-anchor="middle" fill="#000" stroke="#000" stroke-width="0.2" transform="translate(446.10 0) scale(0.78 1) translate(-446.10 0)">10</text>
<text x="450.50" y="382.70" font-size="7.0" fill="#000" stroke="#000" stroke-width="0.15" transform="translate(450.50 0) scale(0.82 1) translate(-450.50 0)">2</text>
<text x="473.30" y="387.10" font-size="8.6" text-anchor="middle" fill="#000" stroke="#000" stroke-width="0.2" transform="translate(473.30 0) scale(0.78 1) translate(-473.30 0)">10</text>
<text x="477.70" y="382.70" font-size="7.0" fill="#000" stroke="#000" stroke-width="0.15" transform="translate(477.70 0) scale(0.82 1) translate(-477.70 0)">3</text>
<text x="500.50" y="387.10" font-size="8.6" text-anchor="middle" fill="#000" stroke="#000" stroke-width="0.2" transform="translate(500.50 0) scale(0.78 1) translate(-500.50 0)">10</text>
<text x="504.90" y="382.70" font-size="7.0" fill="#000" stroke="#000" stroke-width="0.15" transform="translate(504.90 0) scale(0.82 1) translate(-504.90 0)">4</text>
<path d="M389.40 374.50 H393.0 M390.40 372.08 H393.0 M390.40 369.67 H393.0 M390.40 367.25 H393.0 M390.40 364.83 H393.0 M390.40 362.42 H393.0 M390.40 360.00 H393.0 M390.40 357.58 H393.0 M390.40 355.17 H393.0 M390.40 352.75 H393.0 M390.40 350.33 H393.0 M390.40 347.92 H393.0 M390.40 345.50 H393.0 M390.40 343.08 H393.0 M390.40 340.67 H393.0 M390.40 338.25 H393.0 M390.40 335.83 H393.0 M390.40 333.42 H393.0 M389.40 331.00 H393.0" stroke="#000" stroke-width="0.75"/>
<text x="386.40" y="374.50" font-size="8.2" text-anchor="middle" fill="#000" stroke="#000" stroke-width="0.1" transform="rotate(-90 386.40 374.50) translate(386.40 0) scale(0.84 1) translate(-386.40 0)">0</text>
<text x="386.40" y="331.00" font-size="8.2" text-anchor="middle" fill="#000" stroke="#000" stroke-width="0.1" transform="rotate(-90 386.40 331.00) translate(386.40 0) scale(0.84 1) translate(-386.40 0)">90</text>
<path d="M394.00 374.50 V347.00" stroke="#000" stroke-width="1.3"/>
<path d="M393.54 360.31 L393.88 373.58 L395.04 373.23 L396.19 373.00 L397.35 372.77 L398.50 372.42 L399.65 372.42 L400.81 372.08 L401.96 371.85 L403.12 371.62 L404.27 371.27 L405.42 371.85 L406.58 372.42 L407.15 371.27 L408.31 370.69 L409.46 369.54 L410.62 368.96 L411.19 370.12 L411.77 370.69 L412.35 369.54 L412.92 368.96 L413.50 370.12 L414.08 369.54 L414.65 370.12 L415.23 368.96 L415.81 367.81 L416.38 368.38 L416.96 367.23 L417.54 366.08 L418.12 366.65 L418.69 365.50 L419.27 366.08 L419.85 364.92 L420.42 364.35 L421.00 363.77 L421.58 363.19 L422.15 362.62 L422.73 363.77 L423.31 363.19 L423.88 362.04 L424.46 361.46 L425.04 362.62 L425.62 361.46 L426.19 360.88 L426.77 360.31 L427.35 359.73 L427.92 359.15 L428.50 359.73 L429.08 358.58 L429.65 360.31 L430.23 361.46 L430.81 358.58 L431.38 357.42 L431.96 356.85 L432.54 358.00 L433.12 357.42 L433.69 360.88 L434.27 359.15 L434.85 358.58 L435.42 358.00 L436.00 359.15 L436.58 358.58 L437.15 358.00 L437.73 357.42 L438.31 358.58 L438.88 358.58 L439.46 359.73 L440.04 360.31 L440.62 360.88 L441.19 361.46 L441.77 362.04 L442.35 362.62 L442.92 363.19 L443.50 363.77 L444.08 364.35 L444.65 364.92 L445.23 365.50 L445.81 366.08 L446.38 366.65 L446.96 366.65 L447.54 367.23 L448.12 367.23 L448.00 367.23 L449.15 366.65 L450.31 366.65 L451.46 365.50 L452.62 367.23 L453.77 366.65 L454.92 366.08 L456.08 367.23 L457.23 367.81 L458.38 367.23 L459.54 367.81 L460.69 367.23 L461.85 366.65 L463.00 366.65 L464.15 366.08 L465.31 364.92 L466.46 364.35 L467.62 364.92 L468.77 363.77 L469.35 365.50 L469.92 363.77 L470.50 362.62 L471.08 361.46 L471.65 360.88 L472.23 359.73 L472.81 360.31 L473.38 361.46 L473.96 360.88 L474.54 359.73 L475.12 359.15 L475.69 358.58 L476.27 358.00 L476.85 357.42 L477.42 357.08 L478.00 357.77 L478.58 358.23 L479.15 358.58 L479.73 359.73 L480.31 360.31 L480.88 360.88 L481.46 362.04 L482.04 363.19 L482.62 364.35 L483.19 366.08 L483.77 367.23 L484.35 368.38 L484.92 368.96 L485.50 369.77 L486.08 370.69 L486.65 371.27 L487.23 371.85 L487.81 372.42 L488.38 372.77 L489.54 373.35 L490.69 373.81 L491.85 374.15 L493.00 374.38 L494.15 374.62 L503.38 374.73" fill="none" stroke="#111" stroke-width="1.0" stroke-linejoin="round"/>
<path d="M108.5 399.30 H222.4 V441.60" fill="none" stroke="#111" stroke-width="0.9"/>
<path d="M108.5 399.30 V441.60 H222.4" fill="none" stroke="#000" stroke-width="1.5"/>
<path d="M108.50 441.60 V444.40 M117.07 441.60 V443.80 M122.09 441.60 V443.80 M125.64 441.60 V443.80 M128.40 441.60 V443.80 M130.66 441.60 V443.80 M132.56 441.60 V443.80 M134.22 441.60 V443.80 M135.67 441.60 V443.80 M136.97 441.60 V444.40 M145.55 441.60 V443.80 M150.56 441.60 V443.80 M154.12 441.60 V443.80 M156.88 441.60 V443.80 M159.13 441.60 V443.80 M161.04 441.60 V443.80 M162.69 441.60 V443.80 M164.15 441.60 V443.80 M165.45 441.60 V444.40 M174.02 441.60 V443.80 M179.04 441.60 V443.80 M182.59 441.60 V443.80 M185.35 441.60 V443.80 M187.61 441.60 V443.80 M189.51 441.60 V443.80 M191.17 441.60 V443.80 M192.62 441.60 V443.80 M193.93 441.60 V444.40 M202.50 441.60 V443.80 M207.51 441.60 V443.80 M211.07 441.60 V443.80 M213.83 441.60 V443.80 M216.08 441.60 V443.80 M217.99 441.60 V443.80 M219.64 441.60 V443.80 M221.10 441.60 V443.80 M222.40 441.60 V444.40" stroke="#000" stroke-width="0.9"/>
<text x="107.20" y="454.20" font-size="8.6" text-anchor="middle" fill="#000" stroke="#000" stroke-width="0.2" transform="translate(107.20 0) scale(0.78 1) translate(-107.20 0)">10</text>
<text x="111.60" y="449.80" font-size="7.0" fill="#000" stroke="#000" stroke-width="0.15" transform="translate(111.60 0) scale(0.82 1) translate(-111.60 0)">0</text>
<text x="135.32" y="454.20" font-size="8.6" text-anchor="middle" fill="#000" stroke="#000" stroke-width="0.2" transform="translate(135.32 0) scale(0.78 1) translate(-135.32 0)">10</text>
<text x="139.72" y="449.80" font-size="7.0" fill="#000" stroke="#000" stroke-width="0.15" transform="translate(139.72 0) scale(0.82 1) translate(-139.72 0)">1</text>
<text x="163.45" y="454.20" font-size="8.6" text-anchor="middle" fill="#000" stroke="#000" stroke-width="0.2" transform="translate(163.45 0) scale(0.78 1) translate(-163.45 0)">10</text>
<text x="167.85" y="449.80" font-size="7.0" fill="#000" stroke="#000" stroke-width="0.15" transform="translate(167.85 0) scale(0.82 1) translate(-167.85 0)">2</text>
<text x="191.57" y="454.20" font-size="8.6" text-anchor="middle" fill="#000" stroke="#000" stroke-width="0.2" transform="translate(191.57 0) scale(0.78 1) translate(-191.57 0)">10</text>
<text x="195.97" y="449.80" font-size="7.0" fill="#000" stroke="#000" stroke-width="0.15" transform="translate(195.97 0) scale(0.82 1) translate(-195.97 0)">3</text>
<text x="219.70" y="454.20" font-size="8.6" text-anchor="middle" fill="#000" stroke="#000" stroke-width="0.2" transform="translate(219.70 0) scale(0.78 1) translate(-219.70 0)">10</text>
<text x="224.10" y="449.80" font-size="7.0" fill="#000" stroke="#000" stroke-width="0.15" transform="translate(224.10 0) scale(0.82 1) translate(-224.10 0)">4</text>
<path d="M104.90 441.60 H108.5 M105.90 438.78 H108.5 M105.90 435.96 H108.5 M105.90 433.14 H108.5 M105.90 430.32 H108.5 M105.90 427.50 H108.5 M105.90 424.68 H108.5 M105.90 421.86 H108.5 M105.90 419.04 H108.5 M105.90 416.22 H108.5 M105.90 413.40 H108.5 M105.90 410.58 H108.5 M105.90 407.76 H108.5 M105.90 404.94 H108.5 M105.90 402.12 H108.5 M104.90 399.30 H108.5" stroke="#000" stroke-width="0.75"/>
<text x="101.90" y="441.60" font-size="8.2" text-anchor="middle" fill="#000" stroke="#000" stroke-width="0.1" transform="rotate(-90 101.90 441.60) translate(101.90 0) scale(0.84 1) translate(-101.90 0)">0</text>
<text x="101.90" y="399.30" font-size="8.2" text-anchor="middle" fill="#000" stroke="#000" stroke-width="0.1" transform="rotate(-90 101.90 399.30) translate(101.90 0) scale(0.84 1) translate(-101.90 0)">150</text>
<path d="M109.50 441.60 V418.00" stroke="#000" stroke-width="1.3"/>
<path d="M108.54 437.54 L109.46 438.12 L110.62 437.54 L111.77 436.96 L112.92 436.38 L114.08 435.81 L115.23 435.23 L116.38 435.81 L117.54 434.65 L118.69 433.50 L119.85 432.35 L121.00 431.19 L122.15 430.62 L123.31 429.46 L123.88 427.73 L124.46 426.00 L125.04 424.27 L125.62 423.12 L126.19 422.54 L126.77 421.38 L127.35 420.23 L127.92 419.65 L128.50 418.50 L129.08 417.35 L129.65 416.19 L130.23 415.04 L130.81 413.88 L131.38 413.31 L131.96 412.15 L132.54 411.00 L133.12 410.42 L133.69 409.27 L134.27 408.46 L134.85 407.54 L135.42 406.38 L136.00 405.23 L136.58 404.08 L137.15 403.85 L137.73 403.50 L138.31 404.65 L138.88 405.23 L139.46 406.96 L140.04 406.38 L140.62 406.96 L141.19 406.38 L141.77 408.69 L142.35 411.00 L142.92 414.46 L143.50 416.19 L144.08 417.92 L144.65 419.65 L145.23 421.38 L145.81 423.12 L146.38 424.85 L146.96 427.15 L147.54 428.88 L148.12 430.62 L148.69 432.35 L149.27 433.50 L149.85 434.65 L150.42 435.81 L151.00 436.96 L151.58 438.12 L152.15 439.27 L153.31 439.85 L154.46 440.08 L155.62 440.19 L156.77 440.31 L157.92 440.42 L159.08 440.77 L160.23 440.77 L161.38 441.00 L162.54 441.23 L163.69 441.58 L164.85 441.58 L166.00 441.81 L175.00 441.30 L222.40 441.40" fill="none" stroke="#111" stroke-width="1.0" stroke-linejoin="round"/>
<path d="M250.3 397.30 H364.0 V439.90" fill="none" stroke="#111" stroke-width="0.9"/>
<path d="M250.3 397.30 V439.90 H364.0" fill="none" stroke="#000" stroke-width="1.5"/>
<path d="M250.30 439.90 V442.70 M258.86 439.90 V442.10 M263.86 439.90 V442.10 M267.41 439.90 V442.10 M270.17 439.90 V442.10 M272.42 439.90 V442.10 M274.32 439.90 V442.10 M275.97 439.90 V442.10 M277.42 439.90 V442.10 M278.73 439.90 V442.70 M287.28 439.90 V442.10 M292.29 439.90 V442.10 M295.84 439.90 V442.10 M298.59 439.90 V442.10 M300.84 439.90 V442.10 M302.75 439.90 V442.10 M304.40 439.90 V442.10 M305.85 439.90 V442.10 M307.15 439.90 V442.70 M315.71 439.90 V442.10 M320.71 439.90 V442.10 M324.26 439.90 V442.10 M327.02 439.90 V442.10 M329.27 439.90 V442.10 M331.17 439.90 V442.10 M332.82 439.90 V442.10 M334.27 439.90 V442.10 M335.57 439.90 V442.70 M344.13 439.90 V442.10 M349.14 439.90 V442.10 M352.69 439.90 V442.10 M355.44 439.90 V442.10 M357.69 439.90 V442.10 M359.60 439.90 V442.10 M361.25 439.90 V442.10 M362.70 439.90 V442.10 M364.00 439.90 V442.70" stroke="#000" stroke-width="0.9"/>
<text x="249.00" y="452.50" font-size="8.6" text-anchor="middle" fill="#000" stroke="#000" stroke-width="0.2" transform="translate(249.00 0) scale(0.78 1) translate(-249.00 0)">10</text>
<text x="253.40" y="448.10" font-size="7.0" fill="#000" stroke="#000" stroke-width="0.15" transform="translate(253.40 0) scale(0.82 1) translate(-253.40 0)">0</text>
<text x="277.07" y="452.50" font-size="8.6" text-anchor="middle" fill="#000" stroke="#000" stroke-width="0.2" transform="translate(277.07 0) scale(0.78 1) translate(-277.07 0)">10</text>
<text x="281.47" y="448.10" font-size="7.0" fill="#000" stroke="#000" stroke-width="0.15" transform="translate(281.47 0) scale(0.82 1) translate(-281.47 0)">1</text>
<text x="305.15" y="452.50" font-size="8.6" text-anchor="middle" fill="#000" stroke="#000" stroke-width="0.2" transform="translate(305.15 0) scale(0.78 1) translate(-305.15 0)">10</text>
<text x="309.55" y="448.10" font-size="7.0" fill="#000" stroke="#000" stroke-width="0.15" transform="translate(309.55 0) scale(0.82 1) translate(-309.55 0)">2</text>
<text x="333.22" y="452.50" font-size="8.6" text-anchor="middle" fill="#000" stroke="#000" stroke-width="0.2" transform="translate(333.22 0) scale(0.78 1) translate(-333.22 0)">10</text>
<text x="337.62" y="448.10" font-size="7.0" fill="#000" stroke="#000" stroke-width="0.15" transform="translate(337.62 0) scale(0.82 1) translate(-337.62 0)">3</text>
<text x="361.30" y="452.50" font-size="8.6" text-anchor="middle" fill="#000" stroke="#000" stroke-width="0.2" transform="translate(361.30 0) scale(0.78 1) translate(-361.30 0)">10</text>
<text x="365.70" y="448.10" font-size="7.0" fill="#000" stroke="#000" stroke-width="0.15" transform="translate(365.70 0) scale(0.82 1) translate(-365.70 0)">4</text>
<path d="M246.70 439.90 H250.3 M247.70 435.17 H250.3 M247.70 430.43 H250.3 M247.70 425.70 H250.3 M247.70 420.97 H250.3 M247.70 416.23 H250.3 M247.70 411.50 H250.3 M247.70 406.77 H250.3 M247.70 402.03 H250.3 M246.70 397.30 H250.3" stroke="#000" stroke-width="0.75"/>
<text x="243.70" y="439.90" font-size="8.2" text-anchor="middle" fill="#000" stroke="#000" stroke-width="0.1" transform="rotate(-90 243.70 439.90) translate(243.70 0) scale(0.84 1) translate(-243.70 0)">0</text>
<text x="243.70" y="397.30" font-size="8.2" text-anchor="middle" fill="#000" stroke="#000" stroke-width="0.1" transform="rotate(-90 243.70 397.30) translate(243.70 0) scale(0.84 1) translate(-243.70 0)">90</text>
<path d="M251.30 439.90 V418.00" stroke="#000" stroke-width="1.3"/>
<path d="M250.88 436.38 L252.04 436.38 L253.19 435.81 L254.35 435.23 L255.50 435.81 L256.65 436.15 L257.81 435.81 L258.96 434.65 L260.12 433.50 L261.27 432.92 L262.42 434.08 L263.58 432.35 L264.73 431.19 L265.88 430.62 L266.46 429.46 L267.04 428.88 L267.62 430.04 L268.19 428.88 L268.77 428.31 L269.35 429.46 L269.92 428.88 L270.50 427.73 L271.08 426.58 L271.65 426.00 L272.23 424.85 L272.81 425.42 L273.38 426.00 L273.96 424.27 L274.54 424.85 L275.12 426.58 L275.69 424.27 L276.27 423.69 L276.85 423.12 L277.42 424.27 L278.00 423.12 L278.58 421.96 L279.15 422.54 L279.73 423.12 L280.31 422.54 L280.88 421.96 L281.46 423.12 L282.04 421.96 L282.62 420.81 L283.19 420.23 L283.77 420.81 L284.35 421.96 L284.92 423.12 L285.50 422.54 L286.08 423.12 L286.65 422.54 L287.23 423.12 L287.81 423.69 L288.38 423.12 L288.96 423.69 L289.54 424.27 L290.12 423.12 L290.69 421.96 L291.27 421.38 L291.85 421.96 L292.42 420.23 L293.00 418.50 L293.58 417.92 L294.15 416.77 L294.73 417.35 L295.31 418.50 L295.88 416.77 L296.46 416.19 L297.04 416.77 L297.62 415.62 L298.19 415.04 L298.77 415.62 L299.35 415.38 L299.92 416.19 L300.50 415.62 L301.08 413.31 L301.65 412.15 L302.23 412.73 L302.81 413.88 L303.38 414.46 L303.96 413.88 L304.54 415.04 L305.12 415.62 L305.69 414.46 L306.27 412.73 L306.85 413.31 L306.00 413.88 L307.15 413.31 L308.31 414.46 L309.46 412.73 L310.62 412.15 L311.77 411.58 L312.92 410.42 L314.08 408.69 L314.65 406.96 L315.23 407.54 L315.81 408.12 L316.38 406.96 L316.96 405.81 L317.54 405.23 L318.12 404.08 L318.69 405.81 L319.27 408.69 L319.62 411.00 L319.85 413.88 L320.42 412.73 L321.00 415.04 L321.58 416.19 L322.15 417.92 L322.73 419.08 L323.31 420.23 L323.88 421.96 L324.46 423.69 L325.04 425.42 L325.62 427.15 L326.19 429.46 L326.77 430.04 L327.35 428.88 L327.92 430.62 L328.50 431.19 L329.08 432.35 L330.23 433.50 L331.38 434.65 L332.54 435.81 L333.69 436.96 L334.85 437.54 L336.00 438.12 L337.15 438.46 L338.31 438.92 L339.46 439.15 L340.62 439.38 L341.77 439.50 L342.92 439.62 L363.46 439.62" fill="none" stroke="#111" stroke-width="1.0" stroke-linejoin="round"/>
<path d="M393.0 397.50 H503.2 V440.80" fill="none" stroke="#111" stroke-width="0.9"/>
<path d="M393.0 397.50 V440.80 H503.2" fill="none" stroke="#000" stroke-width="1.5"/>
<path d="M393.00 440.80 V443.60 M401.29 440.80 V443.00 M406.14 440.80 V443.00 M409.59 440.80 V443.00 M412.26 440.80 V443.00 M414.44 440.80 V443.00 M416.28 440.80 V443.00 M417.88 440.80 V443.00 M419.29 440.80 V443.00 M420.55 440.80 V443.60 M428.84 440.80 V443.00 M433.69 440.80 V443.00 M437.14 440.80 V443.00 M439.81 440.80 V443.00 M441.99 440.80 V443.00 M443.83 440.80 V443.00 M445.43 440.80 V443.00 M446.84 440.80 V443.00 M448.10 440.80 V443.60 M456.39 440.80 V443.00 M461.24 440.80 V443.00 M464.69 440.80 V443.00 M467.36 440.80 V443.00 M469.54 440.80 V443.00 M471.38 440.80 V443.00 M472.98 440.80 V443.00 M474.39 440.80 V443.00 M475.65 440.80 V443.60 M483.94 440.80 V443.00 M488.79 440.80 V443.00 M492.24 440.80 V443.00 M494.91 440.80 V443.00 M497.09 440.80 V443.00 M498.93 440.80 V443.00 M500.53 440.80 V443.00 M501.94 440.80 V443.00 M503.20 440.80 V443.60" stroke="#000" stroke-width="0.9"/>
<text x="391.70" y="453.40" font-size="8.6" text-anchor="middle" fill="#000" stroke="#000" stroke-width="0.2" transform="translate(391.70 0) scale(0.78 1) translate(-391.70 0)">10</text>
<text x="396.10" y="449.00" font-size="7.0" fill="#000" stroke="#000" stroke-width="0.15" transform="translate(396.10 0) scale(0.82 1) translate(-396.10 0)">0</text>
<text x="418.90" y="453.40" font-size="8.6" text-anchor="middle" fill="#000" stroke="#000" stroke-width="0.2" transform="translate(418.90 0) scale(0.78 1) translate(-418.90 0)">10</text>
<text x="423.30" y="449.00" font-size="7.0" fill="#000" stroke="#000" stroke-width="0.15" transform="translate(423.30 0) scale(0.82 1) translate(-423.30 0)">1</text>
<text x="446.10" y="453.40" font-size="8.6" text-anchor="middle" fill="#000" stroke="#000" stroke-width="0.2" transform="translate(446.10 0) scale(0.78 1) translate(-446.10 0)">10</text>
<text x="450.50" y="449.00" font-size="7.0" fill="#000" stroke="#000" stroke-width="0.15" transform="translate(450.50 0) scale(0.82 1) translate(-450.50 0)">2</text>
<text x="473.30" y="453.40" font-size="8.6" text-anchor="middle" fill="#000" stroke="#000" stroke-width="0.2" transform="translate(473.30 0) scale(0.78 1) translate(-473.30 0)">10</text>
<text x="477.70" y="449.00" font-size="7.0" fill="#000" stroke="#000" stroke-width="0.15" transform="translate(477.70 0) scale(0.82 1) translate(-477.70 0)">3</text>
<text x="500.50" y="453.40" font-size="8.6" text-anchor="middle" fill="#000" stroke="#000" stroke-width="0.2" transform="translate(500.50 0) scale(0.78 1) translate(-500.50 0)">10</text>
<text x="504.90" y="449.00" font-size="7.0" fill="#000" stroke="#000" stroke-width="0.15" transform="translate(504.90 0) scale(0.82 1) translate(-504.90 0)">4</text>
<path d="M389.40 440.80 H393.0 M390.40 437.91 H393.0 M390.40 435.03 H393.0 M390.40 432.14 H393.0 M390.40 429.25 H393.0 M390.40 426.37 H393.0 M390.40 423.48 H393.0 M390.40 420.59 H393.0 M390.40 417.71 H393.0 M390.40 414.82 H393.0 M390.40 411.93 H393.0 M390.40 409.05 H393.0 M390.40 406.16 H393.0 M390.40 403.27 H393.0 M390.40 400.39 H393.0 M389.40 397.50 H393.0" stroke="#000" stroke-width="0.75"/>
<text x="386.40" y="440.80" font-size="8.2" text-anchor="middle" fill="#000" stroke="#000" stroke-width="0.1" transform="rotate(-90 386.40 440.80) translate(386.40 0) scale(0.84 1) translate(-386.40 0)">0</text>
<text x="386.40" y="397.50" font-size="8.2" text-anchor="middle" fill="#000" stroke="#000" stroke-width="0.1" transform="rotate(-90 386.40 397.50) translate(386.40 0) scale(0.84 1) translate(-386.40 0)">150</text>
<path d="M394.00 440.80 V434.00" stroke="#000" stroke-width="1.3"/>
<path d="M393.31 434.08 L393.88 439.85 L395.62 440.08 L397.92 439.85 L400.23 439.85 L402.54 439.62 L404.85 439.62 L407.15 439.62 L409.46 439.50 L411.77 439.27 L414.08 439.04 L416.38 438.92 L418.69 438.69 L421.00 438.46 L423.31 438.46 L425.62 438.69 L427.92 438.46 L430.23 438.69 L432.54 438.92 L434.85 438.92 L437.15 438.69 L439.46 438.69 L441.77 438.46 L444.08 438.12 L446.38 437.77 L448.69 437.31 L449.85 436.62 L448.00 437.54 L449.15 436.96 L450.31 436.38 L451.46 436.15 L452.62 435.81 L453.77 435.00 L454.92 433.50 L456.08 432.35 L457.23 430.62 L458.38 429.69 L459.54 428.31 L460.69 426.58 L461.85 424.85 L463.00 423.12 L464.15 421.62 L465.31 419.65 L466.46 417.35 L467.62 415.04 L468.77 413.31 L469.92 411.58 L471.08 410.42 L472.23 409.85 L473.38 409.27 L474.54 408.12 L475.12 406.96 L475.69 405.81 L476.27 406.38 L476.85 408.69 L477.42 409.85 L478.00 411.58 L478.58 412.73 L479.15 414.46 L479.73 415.62 L480.31 416.77 L481.46 417.92 L482.62 420.81 L483.77 423.69 L484.92 426.58 L486.08 429.46 L487.23 432.35 L488.38 435.23 L489.54 436.96 L490.69 438.46 L491.85 439.27 L493.00 439.62 L494.15 439.85 L495.31 440.08 L496.46 440.42 L497.62 440.54 L498.77 440.65 L499.92 441.00 L501.08 441.23 L502.23 441.58 L502.81 441.69" fill="none" stroke="#111" stroke-width="1.0" stroke-linejoin="round"/>
<path d="M108.5 465.60 H222.4 V506.50" fill="none" stroke="#111" stroke-width="0.9"/>
<path d="M108.5 465.60 V506.50 H222.4" fill="none" stroke="#000" stroke-width="1.5"/>
<path d="M108.50 506.50 V509.30 M117.07 506.50 V508.70 M122.09 506.50 V508.70 M125.64 506.50 V508.70 M128.40 506.50 V508.70 M130.66 506.50 V508.70 M132.56 506.50 V508.70 M134.22 506.50 V508.70 M135.67 506.50 V508.70 M136.97 506.50 V509.30 M145.55 506.50 V508.70 M150.56 506.50 V508.70 M154.12 506.50 V508.70 M156.88 506.50 V508.70 M159.13 506.50 V508.70 M161.04 506.50 V508.70 M162.69 506.50 V508.70 M164.15 506.50 V508.70 M165.45 506.50 V509.30 M174.02 506.50 V508.70 M179.04 506.50 V508.70 M182.59 506.50 V508.70 M185.35 506.50 V508.70 M187.61 506.50 V508.70 M189.51 506.50 V508.70 M191.17 506.50 V508.70 M192.62 506.50 V508.70 M193.93 506.50 V509.30 M202.50 506.50 V508.70 M207.51 506.50 V508.70 M211.07 506.50 V508.70 M213.83 506.50 V508.70 M216.08 506.50 V508.70 M217.99 506.50 V508.70 M219.64 506.50 V508.70 M221.10 506.50 V508.70 M222.40 506.50 V509.30" stroke="#000" stroke-width="0.9"/>
<text x="107.20" y="519.10" font-size="8.6" text-anchor="middle" fill="#000" stroke="#000" stroke-width="0.2" transform="translate(107.20 0) scale(0.78 1) translate(-107.20 0)">10</text>
<text x="111.60" y="514.70" font-size="7.0" fill="#000" stroke="#000" stroke-width="0.15" transform="translate(111.60 0) scale(0.82 1) translate(-111.60 0)">0</text>
<text x="135.32" y="519.10" font-size="8.6" text-anchor="middle" fill="#000" stroke="#000" stroke-width="0.2" transform="translate(135.32 0) scale(0.78 1) translate(-135.32 0)">10</text>
<text x="139.72" y="514.70" font-size="7.0" fill="#000" stroke="#000" stroke-width="0.15" transform="translate(139.72 0) scale(0.82 1) translate(-139.72 0)">1</text>
<text x="163.45" y="519.10" font-size="8.6" text-anchor="middle" fill="#000" stroke="#000" stroke-width="0.2" transform="translate(163.45 0) scale(0.78 1) translate(-163.45 0)">10</text>
<text x="167.85" y="514.70" font-size="7.0" fill="#000" stroke="#000" stroke-width="0.15" transform="translate(167.85 0) scale(0.82 1) translate(-167.85 0)">2</text>
<text x="191.57" y="519.10" font-size="8.6" text-anchor="middle" fill="#000" stroke="#000" stroke-width="0.2" transform="translate(191.57 0) scale(0.78 1) translate(-191.57 0)">10</text>
<text x="195.97" y="514.70" font-size="7.0" fill="#000" stroke="#000" stroke-width="0.15" transform="translate(195.97 0) scale(0.82 1) translate(-195.97 0)">3</text>
<text x="219.70" y="519.10" font-size="8.6" text-anchor="middle" fill="#000" stroke="#000" stroke-width="0.2" transform="translate(219.70 0) scale(0.78 1) translate(-219.70 0)">10</text>
<text x="224.10" y="514.70" font-size="7.0" fill="#000" stroke="#000" stroke-width="0.15" transform="translate(224.10 0) scale(0.82 1) translate(-224.10 0)">4</text>
<path d="M104.90 506.50 H108.5 M105.90 504.45 H108.5 M105.90 502.41 H108.5 M105.90 500.37 H108.5 M105.90 498.32 H108.5 M105.90 496.27 H108.5 M105.90 494.23 H108.5 M105.90 492.19 H108.5 M105.90 490.14 H108.5 M105.90 488.10 H108.5 M105.90 486.05 H108.5 M105.90 484.00 H108.5 M105.90 481.96 H108.5 M105.90 479.92 H108.5 M105.90 477.87 H108.5 M105.90 475.83 H108.5 M105.90 473.78 H108.5 M105.90 471.74 H108.5 M105.90 469.69 H108.5 M105.90 467.65 H108.5 M104.90 465.60 H108.5" stroke="#000" stroke-width="0.75"/>
<text x="101.90" y="506.50" font-size="8.2" text-anchor="middle" fill="#000" stroke="#000" stroke-width="0.1" transform="rotate(-90 101.90 506.50) translate(101.90 0) scale(0.84 1) translate(-101.90 0)">0</text>
<text x="101.90" y="465.60" font-size="8.2" text-anchor="middle" fill="#000" stroke="#000" stroke-width="0.1" transform="rotate(-90 101.90 465.60) translate(101.90 0) scale(0.84 1) translate(-101.90 0)">100</text>
<path d="M109.50 506.50 V486.00" stroke="#000" stroke-width="1.3"/>
<path d="M108.88 504.46 L110.04 504.12 L111.19 503.88 L112.35 503.54 L113.50 503.31 L114.65 502.96 L115.81 502.62 L116.96 502.38 L118.12 501.81 L119.27 501.23 L120.42 500.65 L121.58 499.85 L122.73 498.92 L123.88 497.77 L125.04 496.62 L126.19 494.88 L127.35 493.38 L128.50 492.00 L129.65 489.69 L130.81 486.81 L131.96 483.35 L133.12 480.46 L134.27 478.15 L135.42 476.42 L136.58 474.69 L137.73 472.38 L138.88 470.31 L140.04 469.50 L141.19 468.92 L141.77 468.35 L142.35 467.19 L142.92 468.35 L143.50 470.08 L144.08 470.65 L144.65 471.81 L145.23 472.38 L145.81 473.54 L146.38 474.69 L146.96 476.42 L147.54 478.73 L148.12 481.04 L148.69 483.35 L149.27 485.08 L149.85 486.81 L150.42 488.54 L151.00 490.27 L151.58 492.58 L152.15 494.88 L152.73 496.62 L153.31 498.35 L153.88 499.50 L154.46 500.65 L155.62 501.81 L156.77 502.96 L157.92 504.12 L159.08 504.69 L160.23 505.27 L161.38 505.62 L162.54 505.85 L163.69 505.96 L164.85 506.08 L166.00 506.19 L175.00 506.30 L222.40 506.40" fill="none" stroke="#111" stroke-width="1.0" stroke-linejoin="round"/>
<path d="M250.3 464.40 H364.0 V507.00" fill="none" stroke="#111" stroke-width="0.9"/>
<path d="M250.3 464.40 V507.00 H364.0" fill="none" stroke="#000" stroke-width="1.5"/>
<path d="M250.30 507.00 V509.80 M258.86 507.00 V509.20 M263.86 507.00 V509.20 M267.41 507.00 V509.20 M270.17 507.00 V509.20 M272.42 507.00 V509.20 M274.32 507.00 V509.20 M275.97 507.00 V509.20 M277.42 507.00 V509.20 M278.73 507.00 V509.80 M287.28 507.00 V509.20 M292.29 507.00 V509.20 M295.84 507.00 V509.20 M298.59 507.00 V509.20 M300.84 507.00 V509.20 M302.75 507.00 V509.20 M304.40 507.00 V509.20 M305.85 507.00 V509.20 M307.15 507.00 V509.80 M315.71 507.00 V509.20 M320.71 507.00 V509.20 M324.26 507.00 V509.20 M327.02 507.00 V509.20 M329.27 507.00 V509.20 M331.17 507.00 V509.20 M332.82 507.00 V509.20 M334.27 507.00 V509.20 M335.57 507.00 V509.80 M344.13 507.00 V509.20 M349.14 507.00 V509.20 M352.69 507.00 V509.20 M355.44 507.00 V509.20 M357.69 507.00 V509.20 M359.60 507.00 V509.20 M361.25 507.00 V509.20 M362.70 507.00 V509.20 M364.00 507.00 V509.80" stroke="#000" stroke-width="0.9"/>
<text x="249.00" y="519.60" font-size="8.6" text-anchor="middle" fill="#000" stroke="#000" stroke-width="0.2" transform="translate(249.00 0) scale(0.78 1) translate(-249.00 0)">10</text>
<text x="253.40" y="515.20" font-size="7.0" fill="#000" stroke="#000" stroke-width="0.15" transform="translate(253.40 0) scale(0.82 1) translate(-253.40 0)">0</text>
<text x="277.07" y="519.60" font-size="8.6" text-anchor="middle" fill="#000" stroke="#000" stroke-width="0.2" transform="translate(277.07 0) scale(0.78 1) translate(-277.07 0)">10</text>
<text x="281.47" y="515.20" font-size="7.0" fill="#000" stroke="#000" stroke-width="0.15" transform="translate(281.47 0) scale(0.82 1) translate(-281.47 0)">1</text>
<text x="305.15" y="519.60" font-size="8.6" text-anchor="middle" fill="#000" stroke="#000" stroke-width="0.2" transform="translate(305.15 0) scale(0.78 1) translate(-305.15 0)">10</text>
<text x="309.55" y="515.20" font-size="7.0" fill="#000" stroke="#000" stroke-width="0.15" transform="translate(309.55 0) scale(0.82 1) translate(-309.55 0)">2</text>
<text x="333.22" y="519.60" font-size="8.6" text-anchor="middle" fill="#000" stroke="#000" stroke-width="0.2" transform="translate(333.22 0) scale(0.78 1) translate(-333.22 0)">10</text>
<text x="337.62" y="515.20" font-size="7.0" fill="#000" stroke="#000" stroke-width="0.15" transform="translate(337.62 0) scale(0.82 1) translate(-337.62 0)">3</text>
<text x="361.30" y="519.60" font-size="8.6" text-anchor="middle" fill="#000" stroke="#000" stroke-width="0.2" transform="translate(361.30 0) scale(0.78 1) translate(-361.30 0)">10</text>
<text x="365.70" y="515.20" font-size="7.0" fill="#000" stroke="#000" stroke-width="0.15" transform="translate(365.70 0) scale(0.82 1) translate(-365.70 0)">4</text>
<path d="M246.70 507.00 H250.3 M247.70 501.68 H250.3 M247.70 496.35 H250.3 M247.70 491.02 H250.3 M247.70 485.70 H250.3 M247.70 480.38 H250.3 M247.70 475.05 H250.3 M247.70 469.72 H250.3 M246.70 464.40 H250.3" stroke="#000" stroke-width="0.75"/>
<text x="243.70" y="507.00" font-size="8.2" text-anchor="middle" fill="#000" stroke="#000" stroke-width="0.1" transform="rotate(-90 243.70 507.00) translate(243.70 0) scale(0.84 1) translate(-243.70 0)">0</text>
<text x="243.70" y="464.40" font-size="8.2" text-anchor="middle" fill="#000" stroke="#000" stroke-width="0.1" transform="rotate(-90 243.70 464.40) translate(243.70 0) scale(0.84 1) translate(-243.70 0)">80</text>
<path d="M251.30 507.00 V485.50" stroke="#000" stroke-width="1.3"/>
<path d="M250.88 505.85 L252.04 505.27 L253.19 505.62 L254.35 504.12 L255.50 504.69 L256.65 504.92 L257.81 504.46 L258.96 505.27 L260.12 504.12 L261.27 502.96 L262.42 503.31 L263.58 502.96 L264.73 502.62 L265.88 502.38 L267.04 502.38 L268.19 501.81 L269.35 500.65 L270.50 498.92 L271.65 499.50 L272.81 498.35 L273.96 497.19 L275.12 498.92 L276.27 498.35 L277.42 497.19 L278.58 496.62 L279.73 497.77 L280.88 496.04 L281.46 495.46 L282.04 496.62 L283.19 497.77 L284.35 497.19 L285.50 498.35 L286.65 497.19 L287.81 497.77 L288.96 496.62 L290.12 496.04 L291.27 496.62 L292.42 497.77 L293.00 498.92 L293.58 497.19 L294.73 496.04 L295.88 494.88 L297.04 493.73 L298.19 493.15 L299.35 492.58 L300.50 491.42 L301.65 490.27 L302.23 489.12 L302.81 488.54 L303.38 487.96 L303.96 489.69 L304.54 488.54 L305.12 487.38 L305.69 486.23 L306.27 485.65 L306.85 484.50 L306.00 486.81 L307.15 486.23 L308.31 484.50 L309.46 483.35 L310.62 483.92 L311.77 482.19 L312.92 480.46 L313.50 478.15 L314.08 475.85 L314.65 473.54 L315.23 471.81 L315.81 470.65 L316.38 469.50 L316.96 471.81 L317.54 472.96 L318.12 472.38 L318.69 472.15 L319.27 472.62 L319.85 471.81 L320.42 471.23 L321.00 472.38 L321.58 473.54 L322.15 475.27 L322.73 476.42 L323.31 478.15 L323.88 479.88 L324.46 481.62 L325.04 483.35 L325.62 484.50 L326.19 485.65 L326.77 486.81 L327.35 487.96 L327.92 489.12 L328.50 490.27 L329.08 491.42 L329.65 492.58 L330.23 494.31 L330.81 495.46 L331.38 497.19 L331.96 498.35 L332.54 499.50 L333.12 500.65 L333.69 501.81 L334.27 502.62 L334.85 503.54 L335.42 504.12 L336.00 504.69 L337.15 505.27 L338.31 505.85 L339.46 506.19 L340.62 506.42 L341.77 506.65 L342.92 507.00 L344.08 507.23 L363.12 507.23" fill="none" stroke="#111" stroke-width="1.0" stroke-linejoin="round"/>
<path d="M393.0 465.00 H503.2 V507.50" fill="none" stroke="#111" stroke-width="0.9"/>
<path d="M393.0 465.00 V507.50 H503.2" fill="none" stroke="#000" stroke-width="1.5"/>
<path d="M393.00 507.50 V510.30 M401.29 507.50 V509.70 M406.14 507.50 V509.70 M409.59 507.50 V509.70 M412.26 507.50 V509.70 M414.44 507.50 V509.70 M416.28 507.50 V509.70 M417.88 507.50 V509.70 M419.29 507.50 V509.70 M420.55 507.50 V510.30 M428.84 507.50 V509.70 M433.69 507.50 V509.70 M437.14 507.50 V509.70 M439.81 507.50 V509.70 M441.99 507.50 V509.70 M443.83 507.50 V509.70 M445.43 507.50 V509.70 M446.84 507.50 V509.70 M448.10 507.50 V510.30 M456.39 507.50 V509.70 M461.24 507.50 V509.70 M464.69 507.50 V509.70 M467.36 507.50 V509.70 M469.54 507.50 V509.70 M471.38 507.50 V509.70 M472.98 507.50 V509.70 M474.39 507.50 V509.70 M475.65 507.50 V510.30 M483.94 507.50 V509.70 M488.79 507.50 V509.70 M492.24 507.50 V509.70 M494.91 507.50 V509.70 M497.09 507.50 V509.70 M498.93 507.50 V509.70 M500.53 507.50 V509.70 M501.94 507.50 V509.70 M503.20 507.50 V510.30" stroke="#000" stroke-width="0.9"/>
<text x="391.70" y="520.10" font-size="8.6" text-anchor="middle" fill="#000" stroke="#000" stroke-width="0.2" transform="translate(391.70 0) scale(0.78 1) translate(-391.70 0)">10</text>
<text x="396.10" y="515.70" font-size="7.0" fill="#000" stroke="#000" stroke-width="0.15" transform="translate(396.10 0) scale(0.82 1) translate(-396.10 0)">0</text>
<text x="418.90" y="520.10" font-size="8.6" text-anchor="middle" fill="#000" stroke="#000" stroke-width="0.2" transform="translate(418.90 0) scale(0.78 1) translate(-418.90 0)">10</text>
<text x="423.30" y="515.70" font-size="7.0" fill="#000" stroke="#000" stroke-width="0.15" transform="translate(423.30 0) scale(0.82 1) translate(-423.30 0)">1</text>
<text x="446.10" y="520.10" font-size="8.6" text-anchor="middle" fill="#000" stroke="#000" stroke-width="0.2" transform="translate(446.10 0) scale(0.78 1) translate(-446.10 0)">10</text>
<text x="450.50" y="515.70" font-size="7.0" fill="#000" stroke="#000" stroke-width="0.15" transform="translate(450.50 0) scale(0.82 1) translate(-450.50 0)">2</text>
<text x="473.30" y="520.10" font-size="8.6" text-anchor="middle" fill="#000" stroke="#000" stroke-width="0.2" transform="translate(473.30 0) scale(0.78 1) translate(-473.30 0)">10</text>
<text x="477.70" y="515.70" font-size="7.0" fill="#000" stroke="#000" stroke-width="0.15" transform="translate(477.70 0) scale(0.82 1) translate(-477.70 0)">3</text>
<text x="500.50" y="520.10" font-size="8.6" text-anchor="middle" fill="#000" stroke="#000" stroke-width="0.2" transform="translate(500.50 0) scale(0.78 1) translate(-500.50 0)">10</text>
<text x="504.90" y="515.70" font-size="7.0" fill="#000" stroke="#000" stroke-width="0.15" transform="translate(504.90 0) scale(0.82 1) translate(-504.90 0)">4</text>
<path d="M389.40 507.50 H393.0 M390.40 505.38 H393.0 M390.40 503.25 H393.0 M390.40 501.12 H393.0 M390.40 499.00 H393.0 M390.40 496.88 H393.0 M390.40 494.75 H393.0 M390.40 492.62 H393.0 M390.40 490.50 H393.0 M390.40 488.38 H393.0 M390.40 486.25 H393.0 M390.40 484.12 H393.0 M390.40 482.00 H393.0 M390.40 479.88 H393.0 M390.40 477.75 H393.0 M390.40 475.62 H393.0 M390.40 473.50 H393.0 M390.40 471.38 H393.0 M390.40 469.25 H393.0 M390.40 467.12 H393.0 M389.40 465.00 H393.0" stroke="#000" stroke-width="0.75"/>
<text x="386.40" y="507.50" font-size="8.2" text-anchor="middle" fill="#000" stroke="#000" stroke-width="0.1" transform="rotate(-90 386.40 507.50) translate(386.40 0) scale(0.84 1) translate(-386.40 0)">0</text>
<text x="386.40" y="465.00" font-size="8.2" text-anchor="middle" fill="#000" stroke="#000" stroke-width="0.1" transform="rotate(-90 386.40 465.00) translate(386.40 0) scale(0.84 1) translate(-386.40 0)">100</text>
<path d="M394.00 507.50 V501.80" stroke="#000" stroke-width="1.3"/>
<path d="M393.08 501.81 L393.88 507.58 L395.62 507.23 L397.92 507.00 L400.23 506.77 L402.54 506.77 L407.15 506.42 L411.77 506.42 L416.38 506.19 L421.00 505.85 L425.62 505.85 L430.23 505.62 L434.85 505.62 L439.46 505.27 L441.77 504.69 L442.92 504.92 L445.23 504.69 L447.54 504.92 L449.85 504.69 L448.00 504.46 L449.15 504.69 L450.31 504.46 L451.46 504.12 L452.62 503.77 L453.77 503.54 L454.92 502.96 L456.08 502.62 L457.23 502.15 L458.38 501.23 L459.54 500.08 L460.69 498.92 L461.85 497.77 L463.00 496.62 L464.15 495.69 L465.31 494.88 L466.46 493.73 L467.62 492.58 L468.77 492.23 L469.35 491.42 L469.92 492.58 L470.50 490.27 L471.08 489.69 L471.65 487.96 L472.23 486.23 L472.81 485.08 L473.38 483.92 L473.96 482.77 L474.54 481.62 L475.12 480.46 L475.69 479.88 L476.27 479.31 L476.85 478.73 L477.42 478.15 L478.00 477.00 L478.58 475.85 L479.15 474.69 L479.73 473.54 L480.31 472.96 L480.88 471.81 L481.46 470.65 L482.04 467.77 L482.38 464.88 L482.62 468.92 L483.19 470.65 L483.77 471.81 L484.35 474.69 L484.92 475.85 L485.50 472.38 L486.08 471.81 L486.65 472.96 L487.23 474.12 L487.81 475.27 L488.38 477.00 L488.96 479.31 L489.54 481.62 L490.12 484.50 L490.69 486.81 L491.27 489.12 L491.85 492.00 L492.42 494.88 L493.00 497.77 L493.58 501.23 L494.15 502.96 L495.31 504.12 L496.46 505.27 L497.62 505.85 L498.77 506.42 L499.92 506.77 L501.08 507.23 L502.23 507.58" fill="none" stroke="#111" stroke-width="1.0" stroke-linejoin="round"/>
</svg>
</body></html>
